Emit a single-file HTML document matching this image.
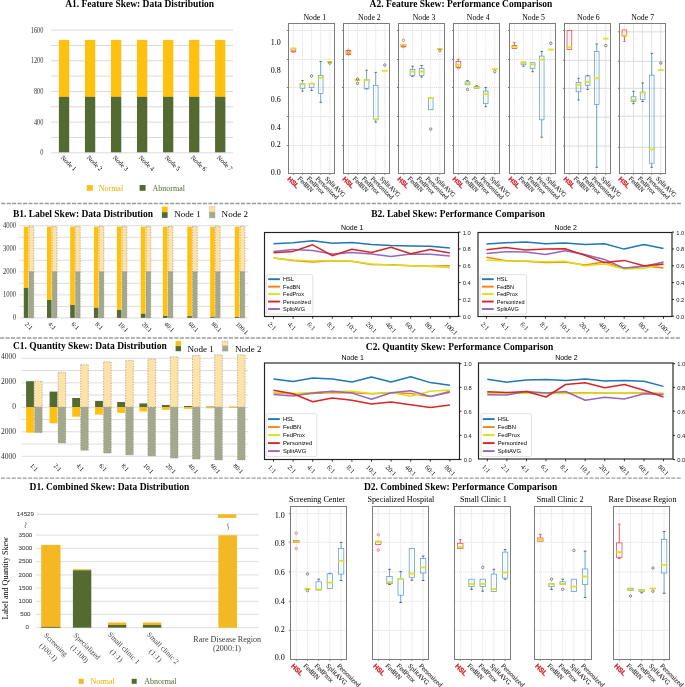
<!DOCTYPE html>
<html><head><meta charset="utf-8"><style>
html,body{margin:0;padding:0;background:#fff;}
body{width:685px;height:687px;overflow:hidden;}
svg{display:block;will-change:transform;}
</style></head><body>
<svg width="685" height="687" viewBox="0 0 685 687" font-family="Liberation Serif">
<rect width="685" height="687" fill="#fff"/>
<line x1="1.2" y1="203.5" x2="681" y2="203.5" stroke="#9a9a9a" stroke-width="1.4" stroke-dasharray="4.05 1.4"/>
<line x1="0.05" y1="338" x2="681" y2="338" stroke="#9a9a9a" stroke-width="1.4" stroke-dasharray="4.05 1.4"/>
<line x1="0.9" y1="478.1" x2="681" y2="478.1" stroke="#9a9a9a" stroke-width="1.4" stroke-dasharray="4.05 1.4"/>
<text x="65.2" y="7" font-family="Liberation Serif" font-size="9.5" font-weight="bold" text-anchor="start" fill="#000">A1. Feature Skew: Data Distribution</text>
<line x1="51" y1="152.8" x2="233" y2="152.8" stroke="#d9d9d9" stroke-width="1"/>
<line x1="51" y1="137.46" x2="233" y2="137.46" stroke="#d9d9d9" stroke-width="1"/>
<line x1="51" y1="122.13" x2="233" y2="122.13" stroke="#d9d9d9" stroke-width="1"/>
<line x1="51" y1="106.79" x2="233" y2="106.79" stroke="#d9d9d9" stroke-width="1"/>
<line x1="51" y1="91.45" x2="233" y2="91.45" stroke="#d9d9d9" stroke-width="1"/>
<line x1="51" y1="76.11" x2="233" y2="76.11" stroke="#d9d9d9" stroke-width="1"/>
<line x1="51" y1="60.78" x2="233" y2="60.78" stroke="#d9d9d9" stroke-width="1"/>
<line x1="51" y1="45.44" x2="233" y2="45.44" stroke="#d9d9d9" stroke-width="1"/>
<line x1="51" y1="30.1" x2="233" y2="30.1" stroke="#d9d9d9" stroke-width="1"/>
<text x="43.4" y="155.35" font-family="Liberation Serif" font-size="7.5" text-anchor="end" fill="#333" textLength="3.15" lengthAdjust="spacingAndGlyphs">0</text>
<text x="43.4" y="124.68" font-family="Liberation Serif" font-size="7.5" text-anchor="end" fill="#333" textLength="9.45" lengthAdjust="spacingAndGlyphs">400</text>
<text x="43.4" y="94" font-family="Liberation Serif" font-size="7.5" text-anchor="end" fill="#333" textLength="9.45" lengthAdjust="spacingAndGlyphs">800</text>
<text x="43.4" y="63.33" font-family="Liberation Serif" font-size="7.5" text-anchor="end" fill="#333" textLength="12.6" lengthAdjust="spacingAndGlyphs">1200</text>
<text x="43.4" y="32.65" font-family="Liberation Serif" font-size="7.5" text-anchor="end" fill="#333" textLength="12.6" lengthAdjust="spacingAndGlyphs">1600</text>
<rect x="58.9" y="39.9" width="10.3" height="56.9" fill="#ffc010"/>
<rect x="58.9" y="96.8" width="10.3" height="55.5" fill="#536a31"/>
<text x="60.4" y="158" font-family="Liberation Serif" font-size="6.5" text-anchor="start" fill="#000" transform="rotate(45 60.4 158)">Node 1</text>
<rect x="84.93" y="39.9" width="10.3" height="56.9" fill="#ffc010"/>
<rect x="84.93" y="96.8" width="10.3" height="55.5" fill="#536a31"/>
<text x="86.43" y="158" font-family="Liberation Serif" font-size="6.5" text-anchor="start" fill="#000" transform="rotate(45 86.43 158)">Node 2</text>
<rect x="110.96" y="39.9" width="10.3" height="56.9" fill="#ffc010"/>
<rect x="110.96" y="96.8" width="10.3" height="55.5" fill="#536a31"/>
<text x="112.46" y="158" font-family="Liberation Serif" font-size="6.5" text-anchor="start" fill="#000" transform="rotate(45 112.46 158)">Node 3</text>
<rect x="136.99" y="39.9" width="10.3" height="56.9" fill="#ffc010"/>
<rect x="136.99" y="96.8" width="10.3" height="55.5" fill="#536a31"/>
<text x="138.49" y="158" font-family="Liberation Serif" font-size="6.5" text-anchor="start" fill="#000" transform="rotate(45 138.49 158)">Node 4</text>
<rect x="163.02" y="39.9" width="10.3" height="56.9" fill="#ffc010"/>
<rect x="163.02" y="96.8" width="10.3" height="55.5" fill="#536a31"/>
<text x="164.52" y="158" font-family="Liberation Serif" font-size="6.5" text-anchor="start" fill="#000" transform="rotate(45 164.52 158)">Node 5</text>
<rect x="189.05" y="39.9" width="10.3" height="56.9" fill="#ffc010"/>
<rect x="189.05" y="96.8" width="10.3" height="55.5" fill="#536a31"/>
<text x="190.55" y="158" font-family="Liberation Serif" font-size="6.5" text-anchor="start" fill="#000" transform="rotate(45 190.55 158)">Node 6</text>
<rect x="215.08" y="39.9" width="10.3" height="56.9" fill="#ffc010"/>
<rect x="215.08" y="96.8" width="10.3" height="55.5" fill="#536a31"/>
<text x="216.58" y="158" font-family="Liberation Serif" font-size="6.5" text-anchor="start" fill="#000" transform="rotate(45 216.58 158)">Node 7</text>
<rect x="86.8" y="185" width="6" height="5.8" fill="#ffc010"/>
<text x="98.7" y="190.6" font-family="Liberation Serif" font-size="8" text-anchor="start" fill="#e8b000">Normal</text>
<rect x="139.6" y="185" width="6" height="5.8" fill="#536a31"/>
<text x="152.6" y="190.6" font-family="Liberation Serif" font-size="8" text-anchor="start" fill="#536a31">Abnormal</text>
<text x="369.6" y="7" font-family="Liberation Serif" font-size="9.5" font-weight="bold" text-anchor="start" fill="#000">A2. Feature Skew: Performance Comparison</text>
<line x1="288.5" y1="30.5" x2="334.5" y2="30.5" stroke="#c8c8c8" stroke-width="0.6" stroke-dasharray="1.3 0.9"/>
<line x1="286.9" y1="30.5" x2="288.5" y2="30.5" stroke="#444" stroke-width="0.7"/>
<line x1="288.5" y1="59.5" x2="334.5" y2="59.5" stroke="#c8c8c8" stroke-width="0.6" stroke-dasharray="1.3 0.9"/>
<line x1="286.9" y1="59.5" x2="288.5" y2="59.5" stroke="#444" stroke-width="0.7"/>
<line x1="288.5" y1="87.5" x2="334.5" y2="87.5" stroke="#c8c8c8" stroke-width="0.6" stroke-dasharray="1.3 0.9"/>
<line x1="286.9" y1="87.5" x2="288.5" y2="87.5" stroke="#444" stroke-width="0.7"/>
<line x1="288.5" y1="116.5" x2="334.5" y2="116.5" stroke="#c8c8c8" stroke-width="0.6" stroke-dasharray="1.3 0.9"/>
<line x1="286.9" y1="116.5" x2="288.5" y2="116.5" stroke="#444" stroke-width="0.7"/>
<line x1="288.5" y1="145.5" x2="334.5" y2="145.5" stroke="#c8c8c8" stroke-width="0.6" stroke-dasharray="1.3 0.9"/>
<line x1="286.9" y1="145.5" x2="288.5" y2="145.5" stroke="#444" stroke-width="0.7"/>
<line x1="293.4" y1="23.5" x2="293.4" y2="173.5" stroke="#d6d6d6" stroke-width="0.7" stroke-dasharray="1.3 0.9"/>
<line x1="293.4" y1="173.5" x2="293.4" y2="174.9" stroke="#444" stroke-width="0.7"/>
<line x1="302.5" y1="23.5" x2="302.5" y2="173.5" stroke="#d6d6d6" stroke-width="0.7" stroke-dasharray="1.3 0.9"/>
<line x1="302.5" y1="173.5" x2="302.5" y2="174.9" stroke="#444" stroke-width="0.7"/>
<line x1="311.6" y1="23.5" x2="311.6" y2="173.5" stroke="#d6d6d6" stroke-width="0.7" stroke-dasharray="1.3 0.9"/>
<line x1="311.6" y1="173.5" x2="311.6" y2="174.9" stroke="#444" stroke-width="0.7"/>
<line x1="320.7" y1="23.5" x2="320.7" y2="173.5" stroke="#d6d6d6" stroke-width="0.7" stroke-dasharray="1.3 0.9"/>
<line x1="320.7" y1="173.5" x2="320.7" y2="174.9" stroke="#444" stroke-width="0.7"/>
<line x1="329.8" y1="23.5" x2="329.8" y2="173.5" stroke="#d6d6d6" stroke-width="0.7" stroke-dasharray="1.3 0.9"/>
<line x1="329.8" y1="173.5" x2="329.8" y2="174.9" stroke="#444" stroke-width="0.7"/>
<rect x="288.5" y="23.5" width="46" height="150" fill="none" stroke="#7c7c7c" stroke-width="1"/>
<text x="314.8" y="19.9" font-family="Liberation Serif" font-size="7.8" text-anchor="middle" fill="#000">Node 1</text>
<rect x="291.05" y="48.3" width="4.7" height="3.5" fill="none" stroke="#e8434b" stroke-width="0.75"/>
<line x1="290.55" y1="48.5" x2="296.25" y2="48.5" stroke="#dde21c" stroke-width="1.8"/>
<circle cx="293.4" cy="51.2" r="1.25" fill="none" stroke="#e8434b" stroke-width="0.6"/>
<line x1="302.5" y1="80.6" x2="302.5" y2="83.4" stroke="#5a9ad4" stroke-width="0.85"/>
<line x1="301.32" y1="80.6" x2="303.68" y2="80.6" stroke="#444" stroke-width="0.8"/>
<line x1="302.5" y1="88.3" x2="302.5" y2="91.1" stroke="#5a9ad4" stroke-width="0.85"/>
<line x1="301.32" y1="91.1" x2="303.68" y2="91.1" stroke="#444" stroke-width="0.8"/>
<rect x="300.15" y="83.4" width="4.7" height="4.9" fill="none" stroke="#5b9bd5" stroke-width="0.75"/>
<line x1="299.65" y1="84.1" x2="305.35" y2="84.1" stroke="#dde21c" stroke-width="1.8"/>
<line x1="311.6" y1="87.6" x2="311.6" y2="90.4" stroke="#5a9ad4" stroke-width="0.85"/>
<line x1="310.42" y1="90.4" x2="312.77" y2="90.4" stroke="#444" stroke-width="0.8"/>
<rect x="309.25" y="83.4" width="4.7" height="4.2" fill="none" stroke="#5b9bd5" stroke-width="0.75"/>
<line x1="308.75" y1="83.6" x2="314.45" y2="83.6" stroke="#dde21c" stroke-width="1.8"/>
<circle cx="311.6" cy="75.9" r="1.25" fill="none" stroke="#444" stroke-width="0.6"/>
<line x1="320.7" y1="61.5" x2="320.7" y2="75.5" stroke="#5a9ad4" stroke-width="0.85"/>
<line x1="319.52" y1="61.5" x2="321.88" y2="61.5" stroke="#444" stroke-width="0.8"/>
<line x1="320.7" y1="93.4" x2="320.7" y2="102.3" stroke="#5a9ad4" stroke-width="0.85"/>
<line x1="319.52" y1="102.3" x2="321.88" y2="102.3" stroke="#444" stroke-width="0.8"/>
<rect x="318.35" y="75.5" width="4.7" height="17.9" fill="none" stroke="#5b9bd5" stroke-width="0.75"/>
<line x1="317.85" y1="77.8" x2="323.55" y2="77.8" stroke="#dde21c" stroke-width="1.8"/>
<line x1="326.95" y1="62" x2="332.65" y2="62" stroke="#dde21c" stroke-width="1.8"/>
<circle cx="329.8" cy="63.1" r="1.25" fill="none" stroke="#444" stroke-width="0.6"/>
<text x="287.1" y="179.4" font-family="Liberation Sans" font-size="6.6" font-weight="bold" text-anchor="start" fill="#d0202a" transform="rotate(45 287.1 179.4)" stroke="#d0202a" stroke-width="0.25">HSL</text>
<text x="297.3" y="179.1" font-family="Liberation Serif" font-size="6.6" text-anchor="start" fill="#222" transform="rotate(45 297.3 179.1)" stroke="#222" stroke-width="0.08">FedBN</text>
<text x="306.4" y="179.1" font-family="Liberation Serif" font-size="6.6" text-anchor="start" fill="#222" transform="rotate(45 306.4 179.1)" stroke="#222" stroke-width="0.08">FedProx</text>
<text x="315.5" y="179.1" font-family="Liberation Serif" font-size="6.6" text-anchor="start" fill="#222" transform="rotate(45 315.5 179.1)" stroke="#222" stroke-width="0.08">Personized</text>
<text x="324.6" y="179.1" font-family="Liberation Serif" font-size="6.6" text-anchor="start" fill="#222" transform="rotate(45 324.6 179.1)" stroke="#222" stroke-width="0.08">SplitAVG</text>
<line x1="343.5" y1="30.5" x2="389.5" y2="30.5" stroke="#c8c8c8" stroke-width="0.6" stroke-dasharray="1.3 0.9"/>
<line x1="341.9" y1="30.5" x2="343.5" y2="30.5" stroke="#444" stroke-width="0.7"/>
<line x1="343.5" y1="59.5" x2="389.5" y2="59.5" stroke="#c8c8c8" stroke-width="0.6" stroke-dasharray="1.3 0.9"/>
<line x1="341.9" y1="59.5" x2="343.5" y2="59.5" stroke="#444" stroke-width="0.7"/>
<line x1="343.5" y1="87.5" x2="389.5" y2="87.5" stroke="#c8c8c8" stroke-width="0.6" stroke-dasharray="1.3 0.9"/>
<line x1="341.9" y1="87.5" x2="343.5" y2="87.5" stroke="#444" stroke-width="0.7"/>
<line x1="343.5" y1="116.5" x2="389.5" y2="116.5" stroke="#c8c8c8" stroke-width="0.6" stroke-dasharray="1.3 0.9"/>
<line x1="341.9" y1="116.5" x2="343.5" y2="116.5" stroke="#444" stroke-width="0.7"/>
<line x1="343.5" y1="145.5" x2="389.5" y2="145.5" stroke="#c8c8c8" stroke-width="0.6" stroke-dasharray="1.3 0.9"/>
<line x1="341.9" y1="145.5" x2="343.5" y2="145.5" stroke="#444" stroke-width="0.7"/>
<line x1="348.4" y1="23.5" x2="348.4" y2="173.5" stroke="#d6d6d6" stroke-width="0.7" stroke-dasharray="1.3 0.9"/>
<line x1="348.4" y1="173.5" x2="348.4" y2="174.9" stroke="#444" stroke-width="0.7"/>
<line x1="357.5" y1="23.5" x2="357.5" y2="173.5" stroke="#d6d6d6" stroke-width="0.7" stroke-dasharray="1.3 0.9"/>
<line x1="357.5" y1="173.5" x2="357.5" y2="174.9" stroke="#444" stroke-width="0.7"/>
<line x1="366.6" y1="23.5" x2="366.6" y2="173.5" stroke="#d6d6d6" stroke-width="0.7" stroke-dasharray="1.3 0.9"/>
<line x1="366.6" y1="173.5" x2="366.6" y2="174.9" stroke="#444" stroke-width="0.7"/>
<line x1="375.7" y1="23.5" x2="375.7" y2="173.5" stroke="#d6d6d6" stroke-width="0.7" stroke-dasharray="1.3 0.9"/>
<line x1="375.7" y1="173.5" x2="375.7" y2="174.9" stroke="#444" stroke-width="0.7"/>
<line x1="384.8" y1="23.5" x2="384.8" y2="173.5" stroke="#d6d6d6" stroke-width="0.7" stroke-dasharray="1.3 0.9"/>
<line x1="384.8" y1="173.5" x2="384.8" y2="174.9" stroke="#444" stroke-width="0.7"/>
<rect x="343.5" y="23.5" width="46" height="150" fill="none" stroke="#7c7c7c" stroke-width="1"/>
<text x="369.4" y="19.9" font-family="Liberation Serif" font-size="7.8" text-anchor="middle" fill="#000">Node 2</text>
<rect x="346.05" y="50.5" width="4.7" height="3.8" fill="none" stroke="#e8434b" stroke-width="0.75"/>
<line x1="345.55" y1="52.6" x2="351.25" y2="52.6" stroke="#dde21c" stroke-width="1.8"/>
<circle cx="348.4" cy="50.8" r="1.25" fill="none" stroke="#e8434b" stroke-width="0.6"/>
<circle cx="348.4" cy="54" r="1.25" fill="none" stroke="#e8434b" stroke-width="0.6"/>
<line x1="354.65" y1="80.1" x2="360.35" y2="80.1" stroke="#dde21c" stroke-width="1.8"/>
<circle cx="357.5" cy="79" r="1.25" fill="none" stroke="#444" stroke-width="0.6"/>
<circle cx="357.5" cy="83.4" r="1.25" fill="none" stroke="#444" stroke-width="0.6"/>
<line x1="366.6" y1="70.3" x2="366.6" y2="79.4" stroke="#5a9ad4" stroke-width="0.85"/>
<line x1="365.42" y1="70.3" x2="367.77" y2="70.3" stroke="#444" stroke-width="0.8"/>
<line x1="366.6" y1="88.8" x2="366.6" y2="88.8" stroke="#5a9ad4" stroke-width="0.85"/>
<line x1="365.42" y1="88.8" x2="367.77" y2="88.8" stroke="#444" stroke-width="0.8"/>
<rect x="364.25" y="79.4" width="4.7" height="9.4" fill="none" stroke="#5b9bd5" stroke-width="0.75"/>
<line x1="363.75" y1="80.1" x2="369.45" y2="80.1" stroke="#dde21c" stroke-width="1.8"/>
<line x1="375.7" y1="72.4" x2="375.7" y2="85.3" stroke="#5a9ad4" stroke-width="0.85"/>
<line x1="374.52" y1="72.4" x2="376.88" y2="72.4" stroke="#444" stroke-width="0.8"/>
<line x1="375.7" y1="119.8" x2="375.7" y2="122.1" stroke="#5a9ad4" stroke-width="0.85"/>
<line x1="374.52" y1="122.1" x2="376.88" y2="122.1" stroke="#444" stroke-width="0.8"/>
<rect x="373.35" y="85.3" width="4.7" height="34.5" fill="none" stroke="#5b9bd5" stroke-width="0.75"/>
<line x1="372.85" y1="119.1" x2="378.55" y2="119.1" stroke="#dde21c" stroke-width="1.8"/>
<line x1="381.95" y1="70.8" x2="387.65" y2="70.8" stroke="#dde21c" stroke-width="1.8"/>
<circle cx="384.8" cy="65" r="1.25" fill="none" stroke="#444" stroke-width="0.6"/>
<text x="342.1" y="179.4" font-family="Liberation Sans" font-size="6.6" font-weight="bold" text-anchor="start" fill="#d0202a" transform="rotate(45 342.1 179.4)" stroke="#d0202a" stroke-width="0.25">HSL</text>
<text x="352.3" y="179.1" font-family="Liberation Serif" font-size="6.6" text-anchor="start" fill="#222" transform="rotate(45 352.3 179.1)" stroke="#222" stroke-width="0.08">FedBN</text>
<text x="361.4" y="179.1" font-family="Liberation Serif" font-size="6.6" text-anchor="start" fill="#222" transform="rotate(45 361.4 179.1)" stroke="#222" stroke-width="0.08">FedProx</text>
<text x="370.5" y="179.1" font-family="Liberation Serif" font-size="6.6" text-anchor="start" fill="#222" transform="rotate(45 370.5 179.1)" stroke="#222" stroke-width="0.08">Personized</text>
<text x="379.6" y="179.1" font-family="Liberation Serif" font-size="6.6" text-anchor="start" fill="#222" transform="rotate(45 379.6 179.1)" stroke="#222" stroke-width="0.08">SplitAVG</text>
<line x1="398.5" y1="30.5" x2="444.5" y2="30.5" stroke="#c8c8c8" stroke-width="0.6" stroke-dasharray="1.3 0.9"/>
<line x1="396.9" y1="30.5" x2="398.5" y2="30.5" stroke="#444" stroke-width="0.7"/>
<line x1="398.5" y1="59.5" x2="444.5" y2="59.5" stroke="#c8c8c8" stroke-width="0.6" stroke-dasharray="1.3 0.9"/>
<line x1="396.9" y1="59.5" x2="398.5" y2="59.5" stroke="#444" stroke-width="0.7"/>
<line x1="398.5" y1="87.5" x2="444.5" y2="87.5" stroke="#c8c8c8" stroke-width="0.6" stroke-dasharray="1.3 0.9"/>
<line x1="396.9" y1="87.5" x2="398.5" y2="87.5" stroke="#444" stroke-width="0.7"/>
<line x1="398.5" y1="116.5" x2="444.5" y2="116.5" stroke="#c8c8c8" stroke-width="0.6" stroke-dasharray="1.3 0.9"/>
<line x1="396.9" y1="116.5" x2="398.5" y2="116.5" stroke="#444" stroke-width="0.7"/>
<line x1="398.5" y1="145.5" x2="444.5" y2="145.5" stroke="#c8c8c8" stroke-width="0.6" stroke-dasharray="1.3 0.9"/>
<line x1="396.9" y1="145.5" x2="398.5" y2="145.5" stroke="#444" stroke-width="0.7"/>
<line x1="403.4" y1="23.5" x2="403.4" y2="173.5" stroke="#d6d6d6" stroke-width="0.7" stroke-dasharray="1.3 0.9"/>
<line x1="403.4" y1="173.5" x2="403.4" y2="174.9" stroke="#444" stroke-width="0.7"/>
<line x1="412.5" y1="23.5" x2="412.5" y2="173.5" stroke="#d6d6d6" stroke-width="0.7" stroke-dasharray="1.3 0.9"/>
<line x1="412.5" y1="173.5" x2="412.5" y2="174.9" stroke="#444" stroke-width="0.7"/>
<line x1="421.6" y1="23.5" x2="421.6" y2="173.5" stroke="#d6d6d6" stroke-width="0.7" stroke-dasharray="1.3 0.9"/>
<line x1="421.6" y1="173.5" x2="421.6" y2="174.9" stroke="#444" stroke-width="0.7"/>
<line x1="430.7" y1="23.5" x2="430.7" y2="173.5" stroke="#d6d6d6" stroke-width="0.7" stroke-dasharray="1.3 0.9"/>
<line x1="430.7" y1="173.5" x2="430.7" y2="174.9" stroke="#444" stroke-width="0.7"/>
<line x1="439.8" y1="23.5" x2="439.8" y2="173.5" stroke="#d6d6d6" stroke-width="0.7" stroke-dasharray="1.3 0.9"/>
<line x1="439.8" y1="173.5" x2="439.8" y2="174.9" stroke="#444" stroke-width="0.7"/>
<rect x="398.5" y="23.5" width="46" height="150" fill="none" stroke="#7c7c7c" stroke-width="1"/>
<text x="424" y="19.9" font-family="Liberation Serif" font-size="7.8" text-anchor="middle" fill="#000">Node 3</text>
<rect x="401.05" y="44.5" width="4.7" height="2.3" fill="none" stroke="#e8434b" stroke-width="0.75"/>
<line x1="400.55" y1="44.9" x2="406.25" y2="44.9" stroke="#dde21c" stroke-width="1.8"/>
<circle cx="403.4" cy="40.3" r="1.25" fill="none" stroke="#e8434b" stroke-width="0.6"/>
<circle cx="403.4" cy="46.5" r="1.25" fill="none" stroke="#e8434b" stroke-width="0.6"/>
<line x1="412.5" y1="66.2" x2="412.5" y2="69.4" stroke="#5a9ad4" stroke-width="0.85"/>
<line x1="411.32" y1="66.2" x2="413.68" y2="66.2" stroke="#444" stroke-width="0.8"/>
<line x1="412.5" y1="75.5" x2="412.5" y2="76.4" stroke="#5a9ad4" stroke-width="0.85"/>
<line x1="411.32" y1="76.4" x2="413.68" y2="76.4" stroke="#444" stroke-width="0.8"/>
<rect x="410.15" y="69.4" width="4.7" height="6.1" fill="none" stroke="#5b9bd5" stroke-width="0.75"/>
<line x1="409.65" y1="71.7" x2="415.35" y2="71.7" stroke="#dde21c" stroke-width="1.8"/>
<line x1="421.6" y1="65.5" x2="421.6" y2="68.5" stroke="#5a9ad4" stroke-width="0.85"/>
<line x1="420.42" y1="65.5" x2="422.77" y2="65.5" stroke="#444" stroke-width="0.8"/>
<line x1="421.6" y1="75.5" x2="421.6" y2="77.1" stroke="#5a9ad4" stroke-width="0.85"/>
<line x1="420.42" y1="77.1" x2="422.77" y2="77.1" stroke="#444" stroke-width="0.8"/>
<rect x="419.25" y="68.5" width="4.7" height="7" fill="none" stroke="#5b9bd5" stroke-width="0.75"/>
<line x1="418.75" y1="71.7" x2="424.45" y2="71.7" stroke="#dde21c" stroke-width="1.8"/>
<rect x="428.35" y="98.1" width="4.7" height="11.6" fill="none" stroke="#5b9bd5" stroke-width="0.75"/>
<line x1="427.85" y1="98.1" x2="433.55" y2="98.1" stroke="#dde21c" stroke-width="1.8"/>
<circle cx="430.7" cy="129.1" r="1.25" fill="none" stroke="#444" stroke-width="0.6"/>
<line x1="436.95" y1="48.9" x2="442.65" y2="48.9" stroke="#dde21c" stroke-width="1.8"/>
<circle cx="439.8" cy="50.5" r="1.25" fill="none" stroke="#444" stroke-width="0.6"/>
<text x="397.1" y="179.4" font-family="Liberation Sans" font-size="6.6" font-weight="bold" text-anchor="start" fill="#d0202a" transform="rotate(45 397.1 179.4)" stroke="#d0202a" stroke-width="0.25">HSL</text>
<text x="407.3" y="179.1" font-family="Liberation Serif" font-size="6.6" text-anchor="start" fill="#222" transform="rotate(45 407.3 179.1)" stroke="#222" stroke-width="0.08">FedBN</text>
<text x="416.4" y="179.1" font-family="Liberation Serif" font-size="6.6" text-anchor="start" fill="#222" transform="rotate(45 416.4 179.1)" stroke="#222" stroke-width="0.08">FedProx</text>
<text x="425.5" y="179.1" font-family="Liberation Serif" font-size="6.6" text-anchor="start" fill="#222" transform="rotate(45 425.5 179.1)" stroke="#222" stroke-width="0.08">Personized</text>
<text x="434.6" y="179.1" font-family="Liberation Serif" font-size="6.6" text-anchor="start" fill="#222" transform="rotate(45 434.6 179.1)" stroke="#222" stroke-width="0.08">SplitAVG</text>
<line x1="453.5" y1="30.5" x2="499.5" y2="30.5" stroke="#c8c8c8" stroke-width="0.6" stroke-dasharray="1.3 0.9"/>
<line x1="451.9" y1="30.5" x2="453.5" y2="30.5" stroke="#444" stroke-width="0.7"/>
<line x1="453.5" y1="59.5" x2="499.5" y2="59.5" stroke="#c8c8c8" stroke-width="0.6" stroke-dasharray="1.3 0.9"/>
<line x1="451.9" y1="59.5" x2="453.5" y2="59.5" stroke="#444" stroke-width="0.7"/>
<line x1="453.5" y1="87.5" x2="499.5" y2="87.5" stroke="#c8c8c8" stroke-width="0.6" stroke-dasharray="1.3 0.9"/>
<line x1="451.9" y1="87.5" x2="453.5" y2="87.5" stroke="#444" stroke-width="0.7"/>
<line x1="453.5" y1="116.5" x2="499.5" y2="116.5" stroke="#c8c8c8" stroke-width="0.6" stroke-dasharray="1.3 0.9"/>
<line x1="451.9" y1="116.5" x2="453.5" y2="116.5" stroke="#444" stroke-width="0.7"/>
<line x1="453.5" y1="145.5" x2="499.5" y2="145.5" stroke="#c8c8c8" stroke-width="0.6" stroke-dasharray="1.3 0.9"/>
<line x1="451.9" y1="145.5" x2="453.5" y2="145.5" stroke="#444" stroke-width="0.7"/>
<line x1="458.4" y1="23.5" x2="458.4" y2="173.5" stroke="#d6d6d6" stroke-width="0.7" stroke-dasharray="1.3 0.9"/>
<line x1="458.4" y1="173.5" x2="458.4" y2="174.9" stroke="#444" stroke-width="0.7"/>
<line x1="467.5" y1="23.5" x2="467.5" y2="173.5" stroke="#d6d6d6" stroke-width="0.7" stroke-dasharray="1.3 0.9"/>
<line x1="467.5" y1="173.5" x2="467.5" y2="174.9" stroke="#444" stroke-width="0.7"/>
<line x1="476.6" y1="23.5" x2="476.6" y2="173.5" stroke="#d6d6d6" stroke-width="0.7" stroke-dasharray="1.3 0.9"/>
<line x1="476.6" y1="173.5" x2="476.6" y2="174.9" stroke="#444" stroke-width="0.7"/>
<line x1="485.7" y1="23.5" x2="485.7" y2="173.5" stroke="#d6d6d6" stroke-width="0.7" stroke-dasharray="1.3 0.9"/>
<line x1="485.7" y1="173.5" x2="485.7" y2="174.9" stroke="#444" stroke-width="0.7"/>
<line x1="494.8" y1="23.5" x2="494.8" y2="173.5" stroke="#d6d6d6" stroke-width="0.7" stroke-dasharray="1.3 0.9"/>
<line x1="494.8" y1="173.5" x2="494.8" y2="174.9" stroke="#444" stroke-width="0.7"/>
<rect x="453.5" y="23.5" width="46" height="150" fill="none" stroke="#7c7c7c" stroke-width="1"/>
<text x="478.2" y="19.9" font-family="Liberation Serif" font-size="7.8" text-anchor="middle" fill="#000">Node 4</text>
<line x1="458.4" y1="59.2" x2="458.4" y2="61.5" stroke="#e8434b" stroke-width="0.85"/>
<line x1="457.22" y1="59.2" x2="459.57" y2="59.2" stroke="#e8434b" stroke-width="0.8"/>
<rect x="456.05" y="61.5" width="4.7" height="5.8" fill="none" stroke="#e8434b" stroke-width="0.75"/>
<line x1="455.55" y1="64.8" x2="461.25" y2="64.8" stroke="#dde21c" stroke-width="1.8"/>
<circle cx="458.4" cy="67.9" r="1.25" fill="none" stroke="#e8434b" stroke-width="0.6"/>
<line x1="467.5" y1="80.6" x2="467.5" y2="81.8" stroke="#5a9ad4" stroke-width="0.85"/>
<line x1="466.32" y1="80.6" x2="468.68" y2="80.6" stroke="#444" stroke-width="0.8"/>
<rect x="465.15" y="81.8" width="4.7" height="3" fill="none" stroke="#5b9bd5" stroke-width="0.75"/>
<line x1="464.65" y1="83.4" x2="470.35" y2="83.4" stroke="#dde21c" stroke-width="1.8"/>
<circle cx="467.5" cy="89.5" r="1.25" fill="none" stroke="#444" stroke-width="0.6"/>
<line x1="476.6" y1="85.7" x2="476.6" y2="86.4" stroke="#5a9ad4" stroke-width="0.85"/>
<line x1="475.42" y1="85.7" x2="477.77" y2="85.7" stroke="#444" stroke-width="0.8"/>
<rect x="474.25" y="86.4" width="4.7" height="1.9" fill="none" stroke="#5b9bd5" stroke-width="0.75"/>
<line x1="473.75" y1="87.6" x2="479.45" y2="87.6" stroke="#dde21c" stroke-width="1.8"/>
<line x1="485.7" y1="87.6" x2="485.7" y2="91.1" stroke="#5a9ad4" stroke-width="0.85"/>
<line x1="484.52" y1="87.6" x2="486.88" y2="87.6" stroke="#444" stroke-width="0.8"/>
<line x1="485.7" y1="103.4" x2="485.7" y2="106.7" stroke="#5a9ad4" stroke-width="0.85"/>
<line x1="484.52" y1="106.7" x2="486.88" y2="106.7" stroke="#444" stroke-width="0.8"/>
<rect x="483.35" y="91.1" width="4.7" height="12.3" fill="none" stroke="#5b9bd5" stroke-width="0.75"/>
<line x1="482.85" y1="94.1" x2="488.55" y2="94.1" stroke="#dde21c" stroke-width="1.8"/>
<line x1="491.95" y1="69" x2="497.65" y2="69" stroke="#dde21c" stroke-width="1.8"/>
<circle cx="494.8" cy="71.7" r="1.25" fill="none" stroke="#444" stroke-width="0.6"/>
<text x="452.1" y="179.4" font-family="Liberation Sans" font-size="6.6" font-weight="bold" text-anchor="start" fill="#d0202a" transform="rotate(45 452.1 179.4)" stroke="#d0202a" stroke-width="0.25">HSL</text>
<text x="462.3" y="179.1" font-family="Liberation Serif" font-size="6.6" text-anchor="start" fill="#222" transform="rotate(45 462.3 179.1)" stroke="#222" stroke-width="0.08">FedBN</text>
<text x="471.4" y="179.1" font-family="Liberation Serif" font-size="6.6" text-anchor="start" fill="#222" transform="rotate(45 471.4 179.1)" stroke="#222" stroke-width="0.08">FedProx</text>
<text x="480.5" y="179.1" font-family="Liberation Serif" font-size="6.6" text-anchor="start" fill="#222" transform="rotate(45 480.5 179.1)" stroke="#222" stroke-width="0.08">Personized</text>
<text x="489.6" y="179.1" font-family="Liberation Serif" font-size="6.6" text-anchor="start" fill="#222" transform="rotate(45 489.6 179.1)" stroke="#222" stroke-width="0.08">SplitAVG</text>
<line x1="509.5" y1="30.5" x2="555.5" y2="30.5" stroke="#c8c8c8" stroke-width="0.6" stroke-dasharray="1.3 0.9"/>
<line x1="507.9" y1="30.5" x2="509.5" y2="30.5" stroke="#444" stroke-width="0.7"/>
<line x1="509.5" y1="59.5" x2="555.5" y2="59.5" stroke="#c8c8c8" stroke-width="0.6" stroke-dasharray="1.3 0.9"/>
<line x1="507.9" y1="59.5" x2="509.5" y2="59.5" stroke="#444" stroke-width="0.7"/>
<line x1="509.5" y1="87.5" x2="555.5" y2="87.5" stroke="#c8c8c8" stroke-width="0.6" stroke-dasharray="1.3 0.9"/>
<line x1="507.9" y1="87.5" x2="509.5" y2="87.5" stroke="#444" stroke-width="0.7"/>
<line x1="509.5" y1="116.5" x2="555.5" y2="116.5" stroke="#c8c8c8" stroke-width="0.6" stroke-dasharray="1.3 0.9"/>
<line x1="507.9" y1="116.5" x2="509.5" y2="116.5" stroke="#444" stroke-width="0.7"/>
<line x1="509.5" y1="145.5" x2="555.5" y2="145.5" stroke="#c8c8c8" stroke-width="0.6" stroke-dasharray="1.3 0.9"/>
<line x1="507.9" y1="145.5" x2="509.5" y2="145.5" stroke="#444" stroke-width="0.7"/>
<line x1="514.4" y1="23.5" x2="514.4" y2="173.5" stroke="#d6d6d6" stroke-width="0.7" stroke-dasharray="1.3 0.9"/>
<line x1="514.4" y1="173.5" x2="514.4" y2="174.9" stroke="#444" stroke-width="0.7"/>
<line x1="523.5" y1="23.5" x2="523.5" y2="173.5" stroke="#d6d6d6" stroke-width="0.7" stroke-dasharray="1.3 0.9"/>
<line x1="523.5" y1="173.5" x2="523.5" y2="174.9" stroke="#444" stroke-width="0.7"/>
<line x1="532.6" y1="23.5" x2="532.6" y2="173.5" stroke="#d6d6d6" stroke-width="0.7" stroke-dasharray="1.3 0.9"/>
<line x1="532.6" y1="173.5" x2="532.6" y2="174.9" stroke="#444" stroke-width="0.7"/>
<line x1="541.7" y1="23.5" x2="541.7" y2="173.5" stroke="#d6d6d6" stroke-width="0.7" stroke-dasharray="1.3 0.9"/>
<line x1="541.7" y1="173.5" x2="541.7" y2="174.9" stroke="#444" stroke-width="0.7"/>
<line x1="550.8" y1="23.5" x2="550.8" y2="173.5" stroke="#d6d6d6" stroke-width="0.7" stroke-dasharray="1.3 0.9"/>
<line x1="550.8" y1="173.5" x2="550.8" y2="174.9" stroke="#444" stroke-width="0.7"/>
<rect x="509.5" y="23.5" width="46" height="150" fill="none" stroke="#7c7c7c" stroke-width="1"/>
<text x="533.5" y="19.9" font-family="Liberation Serif" font-size="7.8" text-anchor="middle" fill="#000">Node 5</text>
<line x1="514.4" y1="42.6" x2="514.4" y2="45.6" stroke="#e8434b" stroke-width="0.85"/>
<line x1="513.23" y1="42.6" x2="515.57" y2="42.6" stroke="#e8434b" stroke-width="0.8"/>
<rect x="512.05" y="45.6" width="4.7" height="2.8" fill="none" stroke="#e8434b" stroke-width="0.75"/>
<line x1="511.55" y1="46.8" x2="517.25" y2="46.8" stroke="#dde21c" stroke-width="1.8"/>
<line x1="523.5" y1="64.8" x2="523.5" y2="66.2" stroke="#5a9ad4" stroke-width="0.85"/>
<line x1="522.33" y1="66.2" x2="524.67" y2="66.2" stroke="#444" stroke-width="0.8"/>
<rect x="521.15" y="62" width="4.7" height="2.8" fill="none" stroke="#5b9bd5" stroke-width="0.75"/>
<line x1="520.65" y1="63.1" x2="526.35" y2="63.1" stroke="#dde21c" stroke-width="1.8"/>
<line x1="532.6" y1="68.3" x2="532.6" y2="71.7" stroke="#5a9ad4" stroke-width="0.85"/>
<line x1="531.43" y1="71.7" x2="533.77" y2="71.7" stroke="#444" stroke-width="0.8"/>
<rect x="530.25" y="62.7" width="4.7" height="5.6" fill="none" stroke="#5b9bd5" stroke-width="0.75"/>
<line x1="529.75" y1="64.3" x2="535.45" y2="64.3" stroke="#dde21c" stroke-width="1.8"/>
<line x1="541.7" y1="51.5" x2="541.7" y2="56.1" stroke="#5a9ad4" stroke-width="0.85"/>
<line x1="540.52" y1="51.5" x2="542.87" y2="51.5" stroke="#444" stroke-width="0.8"/>
<line x1="541.7" y1="119.8" x2="541.7" y2="137.2" stroke="#5a9ad4" stroke-width="0.85"/>
<line x1="540.52" y1="137.2" x2="542.87" y2="137.2" stroke="#444" stroke-width="0.8"/>
<rect x="539.35" y="56.1" width="4.7" height="63.7" fill="none" stroke="#5b9bd5" stroke-width="0.75"/>
<line x1="538.85" y1="59.6" x2="544.55" y2="59.6" stroke="#dde21c" stroke-width="1.8"/>
<line x1="547.95" y1="49.6" x2="553.65" y2="49.6" stroke="#dde21c" stroke-width="1.8"/>
<circle cx="550.8" cy="43.3" r="1.25" fill="none" stroke="#444" stroke-width="0.6"/>
<text x="508.1" y="179.4" font-family="Liberation Sans" font-size="6.6" font-weight="bold" text-anchor="start" fill="#d0202a" transform="rotate(45 508.1 179.4)" stroke="#d0202a" stroke-width="0.25">HSL</text>
<text x="518.3" y="179.1" font-family="Liberation Serif" font-size="6.6" text-anchor="start" fill="#222" transform="rotate(45 518.3 179.1)" stroke="#222" stroke-width="0.08">FedBN</text>
<text x="527.4" y="179.1" font-family="Liberation Serif" font-size="6.6" text-anchor="start" fill="#222" transform="rotate(45 527.4 179.1)" stroke="#222" stroke-width="0.08">FedProx</text>
<text x="536.5" y="179.1" font-family="Liberation Serif" font-size="6.6" text-anchor="start" fill="#222" transform="rotate(45 536.5 179.1)" stroke="#222" stroke-width="0.08">Personized</text>
<text x="545.6" y="179.1" font-family="Liberation Serif" font-size="6.6" text-anchor="start" fill="#222" transform="rotate(45 545.6 179.1)" stroke="#222" stroke-width="0.08">SplitAVG</text>
<line x1="564.5" y1="30.5" x2="610.5" y2="30.5" stroke="#d0d0d0" stroke-width="0.8"/>
<line x1="562.9" y1="30.5" x2="564.5" y2="30.5" stroke="#444" stroke-width="0.7"/>
<line x1="564.5" y1="60.3" x2="610.5" y2="60.3" stroke="#d0d0d0" stroke-width="0.8"/>
<line x1="562.9" y1="60.3" x2="564.5" y2="60.3" stroke="#444" stroke-width="0.7"/>
<line x1="564.5" y1="88.3" x2="610.5" y2="88.3" stroke="#d0d0d0" stroke-width="0.8"/>
<line x1="562.9" y1="88.3" x2="564.5" y2="88.3" stroke="#444" stroke-width="0.7"/>
<line x1="564.5" y1="117.2" x2="610.5" y2="117.2" stroke="#d0d0d0" stroke-width="0.8"/>
<line x1="562.9" y1="117.2" x2="564.5" y2="117.2" stroke="#444" stroke-width="0.7"/>
<line x1="564.5" y1="146" x2="610.5" y2="146" stroke="#d0d0d0" stroke-width="0.8"/>
<line x1="562.9" y1="146" x2="564.5" y2="146" stroke="#444" stroke-width="0.7"/>
<line x1="569.4" y1="23.5" x2="569.4" y2="173.5" stroke="#dadada" stroke-width="0.8" stroke-dasharray="1.3 0.9"/>
<line x1="569.4" y1="173.5" x2="569.4" y2="174.9" stroke="#444" stroke-width="0.7"/>
<line x1="578.5" y1="23.5" x2="578.5" y2="173.5" stroke="#dadada" stroke-width="0.8"/>
<line x1="578.5" y1="173.5" x2="578.5" y2="174.9" stroke="#444" stroke-width="0.7"/>
<line x1="587.6" y1="23.5" x2="587.6" y2="173.5" stroke="#dadada" stroke-width="0.8"/>
<line x1="587.6" y1="173.5" x2="587.6" y2="174.9" stroke="#444" stroke-width="0.7"/>
<line x1="596.7" y1="23.5" x2="596.7" y2="173.5" stroke="#dadada" stroke-width="0.8"/>
<line x1="596.7" y1="173.5" x2="596.7" y2="174.9" stroke="#444" stroke-width="0.7"/>
<line x1="605.8" y1="23.5" x2="605.8" y2="173.5" stroke="#dadada" stroke-width="0.8"/>
<line x1="605.8" y1="173.5" x2="605.8" y2="174.9" stroke="#444" stroke-width="0.7"/>
<rect x="564.5" y="23.5" width="46" height="150" fill="none" stroke="#7c7c7c" stroke-width="1"/>
<text x="588.4" y="19.9" font-family="Liberation Serif" font-size="7.8" text-anchor="middle" fill="#000">Node 6</text>
<rect x="567.05" y="30.5" width="4.7" height="19.1" fill="none" stroke="#e8434b" stroke-width="0.75"/>
<line x1="566.55" y1="47.3" x2="572.25" y2="47.3" stroke="#dde21c" stroke-width="1.8"/>
<line x1="578.5" y1="78.3" x2="578.5" y2="82.5" stroke="#5a9ad4" stroke-width="0.85"/>
<line x1="577.33" y1="78.3" x2="579.67" y2="78.3" stroke="#444" stroke-width="0.8"/>
<line x1="578.5" y1="91.8" x2="578.5" y2="100" stroke="#5a9ad4" stroke-width="0.85"/>
<line x1="577.33" y1="100" x2="579.67" y2="100" stroke="#444" stroke-width="0.8"/>
<rect x="576.15" y="82.5" width="4.7" height="9.3" fill="none" stroke="#5b9bd5" stroke-width="0.75"/>
<line x1="575.65" y1="84.8" x2="581.35" y2="84.8" stroke="#dde21c" stroke-width="1.8"/>
<line x1="587.6" y1="75.5" x2="587.6" y2="75.9" stroke="#5a9ad4" stroke-width="0.85"/>
<line x1="586.43" y1="75.5" x2="588.77" y2="75.5" stroke="#444" stroke-width="0.8"/>
<line x1="587.6" y1="85.3" x2="587.6" y2="89.5" stroke="#5a9ad4" stroke-width="0.85"/>
<line x1="586.43" y1="89.5" x2="588.77" y2="89.5" stroke="#444" stroke-width="0.8"/>
<rect x="585.25" y="75.9" width="4.7" height="9.4" fill="none" stroke="#5b9bd5" stroke-width="0.75"/>
<line x1="584.75" y1="81.8" x2="590.45" y2="81.8" stroke="#dde21c" stroke-width="1.8"/>
<line x1="596.7" y1="44" x2="596.7" y2="51.5" stroke="#5a9ad4" stroke-width="0.85"/>
<line x1="595.52" y1="44" x2="597.87" y2="44" stroke="#444" stroke-width="0.8"/>
<line x1="596.7" y1="104.4" x2="596.7" y2="167.3" stroke="#5a9ad4" stroke-width="0.85"/>
<line x1="595.52" y1="167.3" x2="597.87" y2="167.3" stroke="#444" stroke-width="0.8"/>
<rect x="594.35" y="51.5" width="4.7" height="52.9" fill="none" stroke="#5b9bd5" stroke-width="0.75"/>
<line x1="593.85" y1="78.3" x2="599.55" y2="78.3" stroke="#dde21c" stroke-width="1.8"/>
<line x1="602.95" y1="38.6" x2="608.65" y2="38.6" stroke="#dde21c" stroke-width="1.8"/>
<circle cx="605.8" cy="45.6" r="1.25" fill="none" stroke="#444" stroke-width="0.6"/>
<text x="563.1" y="179.4" font-family="Liberation Sans" font-size="6.6" font-weight="bold" text-anchor="start" fill="#d0202a" transform="rotate(45 563.1 179.4)" stroke="#d0202a" stroke-width="0.25">HSL</text>
<text x="573.3" y="179.1" font-family="Liberation Serif" font-size="6.6" text-anchor="start" fill="#222" transform="rotate(45 573.3 179.1)" stroke="#222" stroke-width="0.08">FedBN</text>
<text x="582.4" y="179.1" font-family="Liberation Serif" font-size="6.6" text-anchor="start" fill="#222" transform="rotate(45 582.4 179.1)" stroke="#222" stroke-width="0.08">FedProx</text>
<text x="591.5" y="179.1" font-family="Liberation Serif" font-size="6.6" text-anchor="start" fill="#222" transform="rotate(45 591.5 179.1)" stroke="#222" stroke-width="0.08">Personized</text>
<text x="600.6" y="179.1" font-family="Liberation Serif" font-size="6.6" text-anchor="start" fill="#222" transform="rotate(45 600.6 179.1)" stroke="#222" stroke-width="0.08">SplitAVG</text>
<line x1="619.5" y1="31.8" x2="665.5" y2="31.8" stroke="#d0d0d0" stroke-width="0.8"/>
<line x1="617.9" y1="31.8" x2="619.5" y2="31.8" stroke="#444" stroke-width="0.7"/>
<line x1="619.5" y1="61.3" x2="665.5" y2="61.3" stroke="#d0d0d0" stroke-width="0.8"/>
<line x1="617.9" y1="61.3" x2="619.5" y2="61.3" stroke="#444" stroke-width="0.7"/>
<line x1="619.5" y1="88.3" x2="665.5" y2="88.3" stroke="#d0d0d0" stroke-width="0.8"/>
<line x1="617.9" y1="88.3" x2="619.5" y2="88.3" stroke="#444" stroke-width="0.7"/>
<line x1="619.5" y1="116.2" x2="665.5" y2="116.2" stroke="#d0d0d0" stroke-width="0.8"/>
<line x1="617.9" y1="116.2" x2="619.5" y2="116.2" stroke="#444" stroke-width="0.7"/>
<line x1="619.5" y1="147.3" x2="665.5" y2="147.3" stroke="#d0d0d0" stroke-width="0.8"/>
<line x1="617.9" y1="147.3" x2="619.5" y2="147.3" stroke="#444" stroke-width="0.7"/>
<line x1="624.4" y1="23.5" x2="624.4" y2="173.5" stroke="#dadada" stroke-width="0.8" stroke-dasharray="1.3 0.9"/>
<line x1="624.4" y1="173.5" x2="624.4" y2="174.9" stroke="#444" stroke-width="0.7"/>
<line x1="633.5" y1="23.5" x2="633.5" y2="173.5" stroke="#dadada" stroke-width="0.8"/>
<line x1="633.5" y1="173.5" x2="633.5" y2="174.9" stroke="#444" stroke-width="0.7"/>
<line x1="642.6" y1="23.5" x2="642.6" y2="173.5" stroke="#dadada" stroke-width="0.8"/>
<line x1="642.6" y1="173.5" x2="642.6" y2="174.9" stroke="#444" stroke-width="0.7"/>
<line x1="651.7" y1="23.5" x2="651.7" y2="173.5" stroke="#dadada" stroke-width="0.8"/>
<line x1="651.7" y1="173.5" x2="651.7" y2="174.9" stroke="#444" stroke-width="0.7"/>
<line x1="660.8" y1="23.5" x2="660.8" y2="173.5" stroke="#dadada" stroke-width="0.8"/>
<line x1="660.8" y1="173.5" x2="660.8" y2="174.9" stroke="#444" stroke-width="0.7"/>
<rect x="619.5" y="23.5" width="46" height="150" fill="none" stroke="#7c7c7c" stroke-width="1"/>
<text x="642.7" y="19.9" font-family="Liberation Serif" font-size="7.8" text-anchor="middle" fill="#000">Node 7</text>
<line x1="624.4" y1="36" x2="624.4" y2="41.5" stroke="#e8434b" stroke-width="0.85"/>
<line x1="623.23" y1="41.5" x2="625.57" y2="41.5" stroke="#e8434b" stroke-width="0.8"/>
<rect x="622.05" y="29.9" width="4.7" height="6.1" fill="none" stroke="#e8434b" stroke-width="0.75"/>
<line x1="621.55" y1="35.4" x2="627.25" y2="35.4" stroke="#dde21c" stroke-width="1.8"/>
<line x1="633.5" y1="91.3" x2="633.5" y2="96.8" stroke="#5a9ad4" stroke-width="0.85"/>
<line x1="632.33" y1="91.3" x2="634.67" y2="91.3" stroke="#444" stroke-width="0.8"/>
<line x1="633.5" y1="101.5" x2="633.5" y2="103.7" stroke="#5a9ad4" stroke-width="0.85"/>
<line x1="632.33" y1="103.7" x2="634.67" y2="103.7" stroke="#444" stroke-width="0.8"/>
<rect x="631.15" y="96.8" width="4.7" height="4.7" fill="none" stroke="#5b9bd5" stroke-width="0.75"/>
<line x1="630.65" y1="100.1" x2="636.35" y2="100.1" stroke="#dde21c" stroke-width="1.8"/>
<line x1="642.6" y1="83" x2="642.6" y2="92.1" stroke="#5a9ad4" stroke-width="0.85"/>
<line x1="641.43" y1="83" x2="643.77" y2="83" stroke="#444" stroke-width="0.8"/>
<line x1="642.6" y1="99.6" x2="642.6" y2="101.5" stroke="#5a9ad4" stroke-width="0.85"/>
<line x1="641.43" y1="101.5" x2="643.77" y2="101.5" stroke="#444" stroke-width="0.8"/>
<rect x="640.25" y="92.1" width="4.7" height="7.5" fill="none" stroke="#5b9bd5" stroke-width="0.75"/>
<line x1="639.75" y1="92.6" x2="645.45" y2="92.6" stroke="#dde21c" stroke-width="1.8"/>
<line x1="651.7" y1="53.4" x2="651.7" y2="75.2" stroke="#5a9ad4" stroke-width="0.85"/>
<line x1="650.52" y1="53.4" x2="652.87" y2="53.4" stroke="#444" stroke-width="0.8"/>
<line x1="651.7" y1="163.2" x2="651.7" y2="167.3" stroke="#5a9ad4" stroke-width="0.85"/>
<line x1="650.52" y1="167.3" x2="652.87" y2="167.3" stroke="#444" stroke-width="0.8"/>
<rect x="649.35" y="75.2" width="4.7" height="88" fill="none" stroke="#5b9bd5" stroke-width="0.75"/>
<line x1="648.85" y1="149.3" x2="654.55" y2="149.3" stroke="#dde21c" stroke-width="1.8"/>
<line x1="657.95" y1="70" x2="663.65" y2="70" stroke="#dde21c" stroke-width="1.8"/>
<circle cx="660.8" cy="63" r="1.25" fill="none" stroke="#444" stroke-width="0.6"/>
<text x="618.1" y="179.4" font-family="Liberation Sans" font-size="6.6" font-weight="bold" text-anchor="start" fill="#d0202a" transform="rotate(45 618.1 179.4)" stroke="#d0202a" stroke-width="0.25">HSL</text>
<text x="628.3" y="179.1" font-family="Liberation Serif" font-size="6.6" text-anchor="start" fill="#222" transform="rotate(45 628.3 179.1)" stroke="#222" stroke-width="0.08">FedBN</text>
<text x="637.4" y="179.1" font-family="Liberation Serif" font-size="6.6" text-anchor="start" fill="#222" transform="rotate(45 637.4 179.1)" stroke="#222" stroke-width="0.08">FedProx</text>
<text x="646.5" y="179.1" font-family="Liberation Serif" font-size="6.6" text-anchor="start" fill="#222" transform="rotate(45 646.5 179.1)" stroke="#222" stroke-width="0.08">Personized</text>
<text x="655.6" y="179.1" font-family="Liberation Serif" font-size="6.6" text-anchor="start" fill="#222" transform="rotate(45 655.6 179.1)" stroke="#222" stroke-width="0.08">SplitAVG</text>
<text x="280.8" y="45.3" font-family="Liberation Serif" font-size="8" text-anchor="end" fill="#000">1.0</text>
<text x="280.8" y="73.4" font-family="Liberation Serif" font-size="8" text-anchor="end" fill="#000">0.8</text>
<text x="280.8" y="101.8" font-family="Liberation Serif" font-size="8" text-anchor="end" fill="#000">0.6</text>
<text x="280.8" y="130.1" font-family="Liberation Serif" font-size="8" text-anchor="end" fill="#000">0.4</text>
<text x="280.8" y="147.1" font-family="Liberation Serif" font-size="8" text-anchor="end" fill="#000">0.2</text>
<text x="280.8" y="175" font-family="Liberation Serif" font-size="8" text-anchor="end" fill="#000">0.0</text>
<text x="12.9" y="217" font-family="Liberation Serif" font-size="9.5" font-weight="bold" text-anchor="start" fill="#000">B1. Label Skew: Data Distribution</text>
<line x1="19.4" y1="317.9" x2="248.6" y2="317.9" stroke="#d9d9d9" stroke-width="0.9"/>
<line x1="19.4" y1="306.38" x2="248.6" y2="306.38" stroke="#d9d9d9" stroke-width="0.9"/>
<line x1="19.4" y1="294.85" x2="248.6" y2="294.85" stroke="#d9d9d9" stroke-width="0.9"/>
<line x1="19.4" y1="283.32" x2="248.6" y2="283.32" stroke="#d9d9d9" stroke-width="0.9"/>
<line x1="19.4" y1="271.8" x2="248.6" y2="271.8" stroke="#d9d9d9" stroke-width="0.9"/>
<line x1="19.4" y1="260.27" x2="248.6" y2="260.27" stroke="#d9d9d9" stroke-width="0.9"/>
<line x1="19.4" y1="248.75" x2="248.6" y2="248.75" stroke="#d9d9d9" stroke-width="0.9"/>
<line x1="19.4" y1="237.22" x2="248.6" y2="237.22" stroke="#d9d9d9" stroke-width="0.9"/>
<line x1="19.4" y1="225.7" x2="248.6" y2="225.7" stroke="#d9d9d9" stroke-width="0.9"/>
<text x="16.2" y="320.4" font-family="Liberation Serif" font-size="7.6" text-anchor="end" fill="#333" textLength="3.32" lengthAdjust="spacingAndGlyphs">0</text>
<text x="16.2" y="297.35" font-family="Liberation Serif" font-size="7.6" text-anchor="end" fill="#333" textLength="13.28" lengthAdjust="spacingAndGlyphs">1000</text>
<text x="16.2" y="274.3" font-family="Liberation Serif" font-size="7.6" text-anchor="end" fill="#333" textLength="13.28" lengthAdjust="spacingAndGlyphs">2000</text>
<text x="16.2" y="251.25" font-family="Liberation Serif" font-size="7.6" text-anchor="end" fill="#333" textLength="13.28" lengthAdjust="spacingAndGlyphs">3000</text>
<text x="16.2" y="228.2" font-family="Liberation Serif" font-size="7.6" text-anchor="end" fill="#333" textLength="13.28" lengthAdjust="spacingAndGlyphs">4000</text>
<rect x="23.8" y="226.6" width="4.6" height="61.3" fill="#ffc010"/>
<rect x="23.8" y="287.9" width="4.6" height="30" fill="#536a31"/>
<rect x="29" y="226.4" width="4.8" height="45.4" fill="#fee2a6" stroke="#808080" stroke-width="0.55" stroke-dasharray="1.3 1.3"/>
<rect x="29" y="271.8" width="4.8" height="46.1" fill="#a5a98c" stroke="#808080" stroke-width="0.55" stroke-dasharray="1.3 1.3"/>
<text x="24.6" y="324.6" font-family="Liberation Serif" font-size="6.3" text-anchor="start" fill="#000" transform="rotate(45 24.6 324.6)">2:1</text>
<rect x="47" y="226.6" width="4.6" height="73.4" fill="#ffc010"/>
<rect x="47" y="300" width="4.6" height="17.9" fill="#536a31"/>
<rect x="52.2" y="226.4" width="4.8" height="45.4" fill="#fee2a6" stroke="#808080" stroke-width="0.55" stroke-dasharray="1.3 1.3"/>
<rect x="52.2" y="271.8" width="4.8" height="46.1" fill="#a5a98c" stroke="#808080" stroke-width="0.55" stroke-dasharray="1.3 1.3"/>
<text x="47.8" y="324.6" font-family="Liberation Serif" font-size="6.3" text-anchor="start" fill="#000" transform="rotate(45 47.8 324.6)">4:1</text>
<rect x="70.2" y="226.6" width="4.6" height="78.4" fill="#ffc010"/>
<rect x="70.2" y="305" width="4.6" height="12.9" fill="#536a31"/>
<rect x="75.4" y="226.4" width="4.8" height="45.4" fill="#fee2a6" stroke="#808080" stroke-width="0.55" stroke-dasharray="1.3 1.3"/>
<rect x="75.4" y="271.8" width="4.8" height="46.1" fill="#a5a98c" stroke="#808080" stroke-width="0.55" stroke-dasharray="1.3 1.3"/>
<text x="71" y="324.6" font-family="Liberation Serif" font-size="6.3" text-anchor="start" fill="#000" transform="rotate(45 71 324.6)">6:1</text>
<rect x="93.9" y="226.6" width="4.6" height="81.2" fill="#ffc010"/>
<rect x="93.9" y="307.8" width="4.6" height="10.1" fill="#536a31"/>
<rect x="99.1" y="226.4" width="4.8" height="45.4" fill="#fee2a6" stroke="#808080" stroke-width="0.55" stroke-dasharray="1.3 1.3"/>
<rect x="99.1" y="271.8" width="4.8" height="46.1" fill="#a5a98c" stroke="#808080" stroke-width="0.55" stroke-dasharray="1.3 1.3"/>
<text x="94.7" y="324.6" font-family="Liberation Serif" font-size="6.3" text-anchor="start" fill="#000" transform="rotate(45 94.7 324.6)">8:1</text>
<rect x="116.9" y="226.6" width="4.6" height="83.4" fill="#ffc010"/>
<rect x="116.9" y="310" width="4.6" height="7.9" fill="#536a31"/>
<rect x="122.1" y="226.4" width="4.8" height="45.4" fill="#fee2a6" stroke="#808080" stroke-width="0.55" stroke-dasharray="1.3 1.3"/>
<rect x="122.1" y="271.8" width="4.8" height="46.1" fill="#a5a98c" stroke="#808080" stroke-width="0.55" stroke-dasharray="1.3 1.3"/>
<text x="117.7" y="324.6" font-family="Liberation Serif" font-size="6.3" text-anchor="start" fill="#000" transform="rotate(45 117.7 324.6)">10:1</text>
<rect x="140.8" y="226.6" width="4.6" height="87.1" fill="#ffc010"/>
<rect x="140.8" y="313.7" width="4.6" height="4.2" fill="#536a31"/>
<rect x="146" y="226.4" width="4.8" height="45.4" fill="#fee2a6" stroke="#808080" stroke-width="0.55" stroke-dasharray="1.3 1.3"/>
<rect x="146" y="271.8" width="4.8" height="46.1" fill="#a5a98c" stroke="#808080" stroke-width="0.55" stroke-dasharray="1.3 1.3"/>
<text x="141.6" y="324.6" font-family="Liberation Serif" font-size="6.3" text-anchor="start" fill="#000" transform="rotate(45 141.6 324.6)">20:1</text>
<rect x="162.9" y="226.6" width="4.6" height="89.2" fill="#ffc010"/>
<rect x="162.9" y="315.8" width="4.6" height="2.1" fill="#536a31"/>
<rect x="168.1" y="226.4" width="4.8" height="45.4" fill="#fee2a6" stroke="#808080" stroke-width="0.55" stroke-dasharray="1.3 1.3"/>
<rect x="168.1" y="271.8" width="4.8" height="46.1" fill="#a5a98c" stroke="#808080" stroke-width="0.55" stroke-dasharray="1.3 1.3"/>
<text x="163.7" y="324.6" font-family="Liberation Serif" font-size="6.3" text-anchor="start" fill="#000" transform="rotate(45 163.7 324.6)">40:1</text>
<rect x="187.3" y="226.6" width="4.6" height="89.5" fill="#ffc010"/>
<rect x="187.3" y="316.1" width="4.6" height="1.8" fill="#536a31"/>
<rect x="192.5" y="226.4" width="4.8" height="45.4" fill="#fee2a6" stroke="#808080" stroke-width="0.55" stroke-dasharray="1.3 1.3"/>
<rect x="192.5" y="271.8" width="4.8" height="46.1" fill="#a5a98c" stroke="#808080" stroke-width="0.55" stroke-dasharray="1.3 1.3"/>
<text x="188.1" y="324.6" font-family="Liberation Serif" font-size="6.3" text-anchor="start" fill="#000" transform="rotate(45 188.1 324.6)">60:1</text>
<rect x="210.2" y="226.6" width="4.6" height="90.2" fill="#ffc010"/>
<rect x="210.2" y="316.8" width="4.6" height="1.1" fill="#536a31"/>
<rect x="215.4" y="226.4" width="4.8" height="45.4" fill="#fee2a6" stroke="#808080" stroke-width="0.55" stroke-dasharray="1.3 1.3"/>
<rect x="215.4" y="271.8" width="4.8" height="46.1" fill="#a5a98c" stroke="#808080" stroke-width="0.55" stroke-dasharray="1.3 1.3"/>
<text x="211" y="324.6" font-family="Liberation Serif" font-size="6.3" text-anchor="start" fill="#000" transform="rotate(45 211 324.6)">80:1</text>
<rect x="234.8" y="226.6" width="4.6" height="90.3" fill="#ffc010"/>
<rect x="234.8" y="316.9" width="4.6" height="1" fill="#536a31"/>
<rect x="240" y="226.4" width="4.8" height="45.4" fill="#fee2a6" stroke="#808080" stroke-width="0.55" stroke-dasharray="1.3 1.3"/>
<rect x="240" y="271.8" width="4.8" height="46.1" fill="#a5a98c" stroke="#808080" stroke-width="0.55" stroke-dasharray="1.3 1.3"/>
<text x="235.6" y="324.6" font-family="Liberation Serif" font-size="6.3" text-anchor="start" fill="#000" transform="rotate(45 235.6 324.6)">100:1</text>
<rect x="161.9" y="206.6" width="5.7" height="5.6" fill="#ffc010"/>
<rect x="161.9" y="212.2" width="5.7" height="5.7" fill="#536a31"/>
<text x="174.2" y="217" font-family="Liberation Serif" font-size="9.1" text-anchor="start" fill="#000">Node 1</text>
<rect x="209.3" y="206.6" width="5.7" height="5.6" fill="#fee2a6" stroke="#8a8a8a" stroke-width="0.5" stroke-dasharray="0.8 0.8"/>
<rect x="209.3" y="212.2" width="5.7" height="5.7" fill="#a5a98c" stroke="#8a8a8a" stroke-width="0.5" stroke-dasharray="0.8 0.8"/>
<text x="221.6" y="217" font-family="Liberation Serif" font-size="9.1" text-anchor="start" fill="#000">Node 2</text>
<text x="12.9" y="349" font-family="Liberation Serif" font-size="9.5" font-weight="bold" text-anchor="start" fill="#000">C1. Quantity Skew: Data Distribution</text>
<line x1="21.4" y1="456.3" x2="248.4" y2="456.3" stroke="#d9d9d9" stroke-width="0.9"/>
<line x1="21.4" y1="444.05" x2="248.4" y2="444.05" stroke="#d9d9d9" stroke-width="0.9"/>
<line x1="21.4" y1="431.8" x2="248.4" y2="431.8" stroke="#d9d9d9" stroke-width="0.9"/>
<line x1="21.4" y1="419.55" x2="248.4" y2="419.55" stroke="#d9d9d9" stroke-width="0.9"/>
<line x1="21.4" y1="407.3" x2="248.4" y2="407.3" stroke="#d9d9d9" stroke-width="0.9"/>
<line x1="21.4" y1="395.05" x2="248.4" y2="395.05" stroke="#d9d9d9" stroke-width="0.9"/>
<line x1="21.4" y1="382.8" x2="248.4" y2="382.8" stroke="#d9d9d9" stroke-width="0.9"/>
<line x1="21.4" y1="370.55" x2="248.4" y2="370.55" stroke="#d9d9d9" stroke-width="0.9"/>
<line x1="21.4" y1="358.3" x2="248.4" y2="358.3" stroke="#d9d9d9" stroke-width="0.9"/>
<text x="16.1" y="458.85" font-family="Liberation Serif" font-size="7.5" text-anchor="end" fill="#333">4000</text>
<text x="16.1" y="433.75" font-family="Liberation Serif" font-size="7.5" text-anchor="end" fill="#333">2000</text>
<text x="16.1" y="409.05" font-family="Liberation Serif" font-size="7.5" text-anchor="end" fill="#333">0</text>
<text x="16.1" y="383.75" font-family="Liberation Serif" font-size="7.5" text-anchor="end" fill="#333">2000</text>
<text x="16.1" y="358.75" font-family="Liberation Serif" font-size="7.5" text-anchor="end" fill="#333">4000</text>
<rect x="26.1" y="381.2" width="7.8" height="26.1" fill="#536a31"/>
<rect x="26.1" y="407.3" width="7.8" height="25.3" fill="#ffc010"/>
<rect x="34.6" y="381.2" width="7.6" height="26.1" fill="#fee2a6" stroke="#808080" stroke-width="0.55" stroke-dasharray="1.3 1.3"/>
<rect x="34.6" y="407.3" width="7.6" height="25.3" fill="#a5a98c" stroke="#808080" stroke-width="0.55" stroke-dasharray="1.3 1.3"/>
<text x="29.8" y="466" font-family="Liberation Serif" font-size="6.3" text-anchor="start" fill="#000" transform="rotate(45 29.8 466)">1:1</text>
<rect x="49.6" y="391.6" width="7.8" height="15.7" fill="#536a31"/>
<rect x="49.6" y="407.3" width="7.8" height="16" fill="#ffc010"/>
<rect x="58.1" y="372.3" width="7.6" height="35" fill="#fee2a6" stroke="#808080" stroke-width="0.55" stroke-dasharray="1.3 1.3"/>
<rect x="58.1" y="407.3" width="7.6" height="35.7" fill="#a5a98c" stroke="#808080" stroke-width="0.55" stroke-dasharray="1.3 1.3"/>
<text x="53.3" y="466" font-family="Liberation Serif" font-size="6.3" text-anchor="start" fill="#000" transform="rotate(45 53.3 466)">2:1</text>
<rect x="72.2" y="398" width="7.8" height="9.3" fill="#536a31"/>
<rect x="72.2" y="407.3" width="7.8" height="9.4" fill="#ffc010"/>
<rect x="80.7" y="364.7" width="7.6" height="42.6" fill="#fee2a6" stroke="#808080" stroke-width="0.55" stroke-dasharray="1.3 1.3"/>
<rect x="80.7" y="407.3" width="7.6" height="43" fill="#a5a98c" stroke="#808080" stroke-width="0.55" stroke-dasharray="1.3 1.3"/>
<text x="75.9" y="466" font-family="Liberation Serif" font-size="6.3" text-anchor="start" fill="#000" transform="rotate(45 75.9 466)">4:1</text>
<rect x="95.1" y="400.9" width="7.8" height="6.4" fill="#536a31"/>
<rect x="95.1" y="407.3" width="7.8" height="7.3" fill="#ffc010"/>
<rect x="103.6" y="361.8" width="7.6" height="45.5" fill="#fee2a6" stroke="#808080" stroke-width="0.55" stroke-dasharray="1.3 1.3"/>
<rect x="103.6" y="407.3" width="7.6" height="45.8" fill="#a5a98c" stroke="#808080" stroke-width="0.55" stroke-dasharray="1.3 1.3"/>
<text x="98.8" y="466" font-family="Liberation Serif" font-size="6.3" text-anchor="start" fill="#000" transform="rotate(45 98.8 466)">6:1</text>
<rect x="117.2" y="402" width="7.8" height="5.3" fill="#536a31"/>
<rect x="117.2" y="407.3" width="7.8" height="5.6" fill="#ffc010"/>
<rect x="125.7" y="360.4" width="7.6" height="46.9" fill="#fee2a6" stroke="#808080" stroke-width="0.55" stroke-dasharray="1.3 1.3"/>
<rect x="125.7" y="407.3" width="7.6" height="47.6" fill="#a5a98c" stroke="#808080" stroke-width="0.55" stroke-dasharray="1.3 1.3"/>
<text x="120.9" y="466" font-family="Liberation Serif" font-size="6.3" text-anchor="start" fill="#000" transform="rotate(45 120.9 466)">8:1</text>
<rect x="139.4" y="403.4" width="7.8" height="3.9" fill="#536a31"/>
<rect x="139.4" y="407.3" width="7.8" height="4.2" fill="#ffc010"/>
<rect x="147.9" y="359" width="7.6" height="48.3" fill="#fee2a6" stroke="#808080" stroke-width="0.55" stroke-dasharray="1.3 1.3"/>
<rect x="147.9" y="407.3" width="7.6" height="48.6" fill="#a5a98c" stroke="#808080" stroke-width="0.55" stroke-dasharray="1.3 1.3"/>
<text x="143.1" y="466" font-family="Liberation Serif" font-size="6.3" text-anchor="start" fill="#000" transform="rotate(45 143.1 466)">10:1</text>
<rect x="161.9" y="405" width="7.8" height="2.3" fill="#536a31"/>
<rect x="161.9" y="407.3" width="7.8" height="2.6" fill="#ffc010"/>
<rect x="170.4" y="356.8" width="7.6" height="50.5" fill="#fee2a6" stroke="#808080" stroke-width="0.55" stroke-dasharray="1.3 1.3"/>
<rect x="170.4" y="407.3" width="7.6" height="50.8" fill="#a5a98c" stroke="#808080" stroke-width="0.55" stroke-dasharray="1.3 1.3"/>
<text x="165.6" y="466" font-family="Liberation Serif" font-size="6.3" text-anchor="start" fill="#000" transform="rotate(45 165.6 466)">20:1</text>
<rect x="184" y="406" width="7.8" height="1.3" fill="#536a31"/>
<rect x="184" y="407.3" width="7.8" height="1.6" fill="#ffc010"/>
<rect x="192.5" y="355.3" width="7.6" height="52" fill="#fee2a6" stroke="#808080" stroke-width="0.55" stroke-dasharray="1.3 1.3"/>
<rect x="192.5" y="407.3" width="7.6" height="51.8" fill="#a5a98c" stroke="#808080" stroke-width="0.55" stroke-dasharray="1.3 1.3"/>
<text x="187.7" y="466" font-family="Liberation Serif" font-size="6.3" text-anchor="start" fill="#000" transform="rotate(45 187.7 466)">40:1</text>
<rect x="206.2" y="406.6" width="7.8" height="0.7" fill="#536a31"/>
<rect x="206.2" y="407.3" width="7.8" height="1" fill="#ffc010"/>
<rect x="214.7" y="354.9" width="7.6" height="52.4" fill="#fee2a6" stroke="#808080" stroke-width="0.55" stroke-dasharray="1.3 1.3"/>
<rect x="214.7" y="407.3" width="7.6" height="52.7" fill="#a5a98c" stroke="#808080" stroke-width="0.55" stroke-dasharray="1.3 1.3"/>
<text x="209.9" y="466" font-family="Liberation Serif" font-size="6.3" text-anchor="start" fill="#000" transform="rotate(45 209.9 466)">60:1</text>
<rect x="229" y="406.8" width="7.8" height="0.5" fill="#536a31"/>
<rect x="229" y="407.3" width="7.8" height="0.7" fill="#ffc010"/>
<rect x="237.5" y="354.9" width="7.6" height="52.4" fill="#fee2a6" stroke="#808080" stroke-width="0.55" stroke-dasharray="1.3 1.3"/>
<rect x="237.5" y="407.3" width="7.6" height="52.7" fill="#a5a98c" stroke="#808080" stroke-width="0.55" stroke-dasharray="1.3 1.3"/>
<text x="232.7" y="466" font-family="Liberation Serif" font-size="6.3" text-anchor="start" fill="#000" transform="rotate(45 232.7 466)">80:1</text>
<rect x="175.6" y="341" width="5.4" height="5.1" fill="#ffc010"/>
<rect x="175.6" y="346.1" width="5.4" height="5.1" fill="#536a31"/>
<text x="187.4" y="351.8" font-family="Liberation Serif" font-size="9.1" text-anchor="start" fill="#000">Node 1</text>
<rect x="222.4" y="341" width="5.6" height="5.1" fill="#fee2a6" stroke="#8a8a8a" stroke-width="0.5" stroke-dasharray="0.8 0.8"/>
<rect x="222.4" y="346.1" width="5.6" height="5.1" fill="#a5a98c" stroke="#8a8a8a" stroke-width="0.5" stroke-dasharray="0.8 0.8"/>
<text x="235" y="351.8" font-family="Liberation Serif" font-size="9.1" text-anchor="start" fill="#000">Node 2</text>
<text x="371.2" y="217" font-family="Liberation Serif" font-size="9.5" font-weight="bold" text-anchor="start" fill="#000">B2. Label Skew: Performance Comparison</text>
<text x="365.8" y="349.5" font-family="Liberation Serif" font-size="9.5" font-weight="bold" text-anchor="start" fill="#000">C2. Quantity Skew: Performance Comparison</text>
<polyline points="273.5,257.9 293.1,260.5 312.7,261.9 332.3,260.8 351.9,261.3 371.5,264.4 391.1,264.8 410.7,265.7 430.3,266.2 449.9,265.8" fill="none" stroke="#ff7f0e" stroke-width="1.5" stroke-linejoin="round"/>
<polyline points="273.5,257.9 293.1,260.1 312.7,261.1 332.3,260.4 351.9,261.3 371.5,263.9 391.1,265.1 410.7,265.7 430.3,266.5 449.9,267.4" fill="none" stroke="#d9e01c" stroke-width="1.5" stroke-linejoin="round"/>
<polyline points="273.5,251.4 293.1,249.6 312.7,250.6 332.3,254 351.9,252.5 371.5,253.9 391.1,256.6 410.7,253.9 430.3,254.3 449.9,256" fill="none" stroke="#9467bd" stroke-width="1.5" stroke-linejoin="round"/>
<polyline points="273.5,252.8 293.1,251.4 312.7,244.8 332.3,255.7 351.9,249.2 371.5,252.5 391.1,247.3 410.7,253.8 430.3,249.4 449.9,253" fill="none" stroke="#d62728" stroke-width="1.5" stroke-linejoin="round"/>
<polyline points="273.5,243.8 293.1,242.7 312.7,240.8 332.3,243.2 351.9,242.6 371.5,244.6 391.1,245.5 410.7,245.9 430.3,246.2 449.9,248" fill="none" stroke="#1f77b4" stroke-width="1.5" stroke-linejoin="round"/>
<rect x="264.5" y="232.5" width="194" height="84" fill="none" stroke="#222" stroke-width="1.15"/>
<line x1="458.5" y1="232.1" x2="460.5" y2="232.1" stroke="#222" stroke-width="1"/>
<text x="462.7" y="234.5" font-family="Liberation Sans" font-size="5.8" text-anchor="start" fill="#222">1.0</text>
<line x1="458.5" y1="249" x2="460.5" y2="249" stroke="#222" stroke-width="1"/>
<text x="462.7" y="251.4" font-family="Liberation Sans" font-size="5.8" text-anchor="start" fill="#222">0.8</text>
<line x1="458.5" y1="265.8" x2="460.5" y2="265.8" stroke="#222" stroke-width="1"/>
<text x="462.7" y="268.2" font-family="Liberation Sans" font-size="5.8" text-anchor="start" fill="#222">0.6</text>
<line x1="458.5" y1="282.6" x2="460.5" y2="282.6" stroke="#222" stroke-width="1"/>
<text x="462.7" y="285" font-family="Liberation Sans" font-size="5.8" text-anchor="start" fill="#222">0.4</text>
<line x1="458.5" y1="299.4" x2="460.5" y2="299.4" stroke="#222" stroke-width="1"/>
<text x="462.7" y="301.8" font-family="Liberation Sans" font-size="5.8" text-anchor="start" fill="#222">0.2</text>
<line x1="458.5" y1="316.2" x2="460.5" y2="316.2" stroke="#222" stroke-width="1"/>
<text x="462.7" y="318.6" font-family="Liberation Sans" font-size="5.8" text-anchor="start" fill="#222">0.0</text>
<line x1="273.5" y1="316.5" x2="273.5" y2="318.7" stroke="#000" stroke-width="0.8"/>
<text x="267.6" y="324.8" font-family="Liberation Serif" font-size="6.8" text-anchor="start" fill="#000" transform="rotate(45 267.6 324.8)">2:1</text>
<line x1="293.1" y1="316.5" x2="293.1" y2="318.7" stroke="#000" stroke-width="0.8"/>
<text x="287.2" y="324.8" font-family="Liberation Serif" font-size="6.8" text-anchor="start" fill="#000" transform="rotate(45 287.2 324.8)">4:1</text>
<line x1="312.7" y1="316.5" x2="312.7" y2="318.7" stroke="#000" stroke-width="0.8"/>
<text x="306.8" y="324.8" font-family="Liberation Serif" font-size="6.8" text-anchor="start" fill="#000" transform="rotate(45 306.8 324.8)">6:1</text>
<line x1="332.3" y1="316.5" x2="332.3" y2="318.7" stroke="#000" stroke-width="0.8"/>
<text x="326.4" y="324.8" font-family="Liberation Serif" font-size="6.8" text-anchor="start" fill="#000" transform="rotate(45 326.4 324.8)">8:1</text>
<line x1="351.9" y1="316.5" x2="351.9" y2="318.7" stroke="#000" stroke-width="0.8"/>
<text x="346" y="324.8" font-family="Liberation Serif" font-size="6.8" text-anchor="start" fill="#000" transform="rotate(45 346 324.8)">10:1</text>
<line x1="371.5" y1="316.5" x2="371.5" y2="318.7" stroke="#000" stroke-width="0.8"/>
<text x="365.6" y="324.8" font-family="Liberation Serif" font-size="6.8" text-anchor="start" fill="#000" transform="rotate(45 365.6 324.8)">20:1</text>
<line x1="391.1" y1="316.5" x2="391.1" y2="318.7" stroke="#000" stroke-width="0.8"/>
<text x="385.2" y="324.8" font-family="Liberation Serif" font-size="6.8" text-anchor="start" fill="#000" transform="rotate(45 385.2 324.8)">40:1</text>
<line x1="410.7" y1="316.5" x2="410.7" y2="318.7" stroke="#000" stroke-width="0.8"/>
<text x="404.8" y="324.8" font-family="Liberation Serif" font-size="6.8" text-anchor="start" fill="#000" transform="rotate(45 404.8 324.8)">60:1</text>
<line x1="430.3" y1="316.5" x2="430.3" y2="318.7" stroke="#000" stroke-width="0.8"/>
<text x="424.4" y="324.8" font-family="Liberation Serif" font-size="6.8" text-anchor="start" fill="#000" transform="rotate(45 424.4 324.8)">80:1</text>
<line x1="449.9" y1="316.5" x2="449.9" y2="318.7" stroke="#000" stroke-width="0.8"/>
<text x="444" y="324.8" font-family="Liberation Serif" font-size="6.8" text-anchor="start" fill="#000" transform="rotate(45 444 324.8)">100:1</text>
<text x="352.2" y="229.7" font-family="Liberation Sans" font-size="7" text-anchor="middle" fill="#000">Node 1</text>
<rect x="266.3" y="274.6" width="46.5" height="39.5" rx="1.2" fill="#fff" fill-opacity="0.8" stroke="#d6d6d6" stroke-width="0.7"/>
<line x1="268.1" y1="279.2" x2="279.9" y2="279.2" stroke="#1f77b4" stroke-width="1.9"/>
<text x="283" y="281.2" font-family="Liberation Sans" font-size="5.56" text-anchor="start" fill="#000">HSL</text>
<line x1="268.1" y1="286.65" x2="279.9" y2="286.65" stroke="#ff7f0e" stroke-width="1.9"/>
<text x="283" y="288.65" font-family="Liberation Sans" font-size="5.56" text-anchor="start" fill="#000">FedBN</text>
<line x1="268.1" y1="294.1" x2="279.9" y2="294.1" stroke="#d9e01c" stroke-width="1.9"/>
<text x="283" y="296.1" font-family="Liberation Sans" font-size="5.56" text-anchor="start" fill="#000">FedProx</text>
<line x1="268.1" y1="301.55" x2="279.9" y2="301.55" stroke="#d62728" stroke-width="1.9"/>
<text x="283" y="303.55" font-family="Liberation Sans" font-size="5.56" text-anchor="start" fill="#000">Personized</text>
<line x1="268.1" y1="309" x2="279.9" y2="309" stroke="#9467bd" stroke-width="1.9"/>
<text x="283" y="311" font-family="Liberation Sans" font-size="5.56" text-anchor="start" fill="#000">SplitAVG</text>
<polyline points="486.4,257.2 506.08,260.7 525.76,261.3 545.44,262.6 565.12,262 584.8,264.9 604.48,262 624.16,268.4 643.84,265.8 663.52,268.1" fill="none" stroke="#ff7f0e" stroke-width="1.5" stroke-linejoin="round"/>
<polyline points="486.4,260 506.08,261 525.76,261 545.44,261.7 565.12,261.3 584.8,265.8 604.48,263.9 624.16,269 643.84,268.4 663.52,263.6" fill="none" stroke="#d9e01c" stroke-width="1.5" stroke-linejoin="round"/>
<polyline points="486.4,253.6 506.08,251.7 525.76,252 545.44,254.6 565.12,250.7 584.8,254.6 604.48,259.4 624.16,268.1 643.84,266.5 663.52,262" fill="none" stroke="#9467bd" stroke-width="1.5" stroke-linejoin="round"/>
<polyline points="486.4,249.8 506.08,247.5 525.76,250.1 545.44,249.1 565.12,248.8 584.8,255.2 604.48,262.6 624.16,260.4 643.84,265.8 663.52,264.2" fill="none" stroke="#d62728" stroke-width="1.5" stroke-linejoin="round"/>
<polyline points="486.4,244 506.08,242.7 525.76,242.1 545.44,243.7 565.12,243 584.8,244.6 604.48,243.7 624.16,249.1 643.84,244.6 663.52,248.5" fill="none" stroke="#1f77b4" stroke-width="1.5" stroke-linejoin="round"/>
<rect x="478" y="232.5" width="194" height="84" fill="none" stroke="#222" stroke-width="1.15"/>
<line x1="672" y1="232.1" x2="674" y2="232.1" stroke="#222" stroke-width="1"/>
<text x="676.2" y="234.5" font-family="Liberation Sans" font-size="5.8" text-anchor="start" fill="#222">1.0</text>
<line x1="672" y1="249" x2="674" y2="249" stroke="#222" stroke-width="1"/>
<text x="676.2" y="251.4" font-family="Liberation Sans" font-size="5.8" text-anchor="start" fill="#222">0.8</text>
<line x1="672" y1="265.8" x2="674" y2="265.8" stroke="#222" stroke-width="1"/>
<text x="676.2" y="268.2" font-family="Liberation Sans" font-size="5.8" text-anchor="start" fill="#222">0.6</text>
<line x1="672" y1="282.6" x2="674" y2="282.6" stroke="#222" stroke-width="1"/>
<text x="676.2" y="285" font-family="Liberation Sans" font-size="5.8" text-anchor="start" fill="#222">0.4</text>
<line x1="672" y1="299.4" x2="674" y2="299.4" stroke="#222" stroke-width="1"/>
<text x="676.2" y="301.8" font-family="Liberation Sans" font-size="5.8" text-anchor="start" fill="#222">0.2</text>
<line x1="672" y1="316.2" x2="674" y2="316.2" stroke="#222" stroke-width="1"/>
<text x="676.2" y="318.6" font-family="Liberation Sans" font-size="5.8" text-anchor="start" fill="#222">0.0</text>
<line x1="486.4" y1="316.5" x2="486.4" y2="318.7" stroke="#000" stroke-width="0.8"/>
<text x="480.5" y="324.8" font-family="Liberation Serif" font-size="6.8" text-anchor="start" fill="#000" transform="rotate(45 480.5 324.8)">2:1</text>
<line x1="506.08" y1="316.5" x2="506.08" y2="318.7" stroke="#000" stroke-width="0.8"/>
<text x="500.18" y="324.8" font-family="Liberation Serif" font-size="6.8" text-anchor="start" fill="#000" transform="rotate(45 500.18 324.8)">4:1</text>
<line x1="525.76" y1="316.5" x2="525.76" y2="318.7" stroke="#000" stroke-width="0.8"/>
<text x="519.86" y="324.8" font-family="Liberation Serif" font-size="6.8" text-anchor="start" fill="#000" transform="rotate(45 519.86 324.8)">6:1</text>
<line x1="545.44" y1="316.5" x2="545.44" y2="318.7" stroke="#000" stroke-width="0.8"/>
<text x="539.54" y="324.8" font-family="Liberation Serif" font-size="6.8" text-anchor="start" fill="#000" transform="rotate(45 539.54 324.8)">8:1</text>
<line x1="565.12" y1="316.5" x2="565.12" y2="318.7" stroke="#000" stroke-width="0.8"/>
<text x="559.22" y="324.8" font-family="Liberation Serif" font-size="6.8" text-anchor="start" fill="#000" transform="rotate(45 559.22 324.8)">10:1</text>
<line x1="584.8" y1="316.5" x2="584.8" y2="318.7" stroke="#000" stroke-width="0.8"/>
<text x="578.9" y="324.8" font-family="Liberation Serif" font-size="6.8" text-anchor="start" fill="#000" transform="rotate(45 578.9 324.8)">20:1</text>
<line x1="604.48" y1="316.5" x2="604.48" y2="318.7" stroke="#000" stroke-width="0.8"/>
<text x="598.58" y="324.8" font-family="Liberation Serif" font-size="6.8" text-anchor="start" fill="#000" transform="rotate(45 598.58 324.8)">40:1</text>
<line x1="624.16" y1="316.5" x2="624.16" y2="318.7" stroke="#000" stroke-width="0.8"/>
<text x="618.26" y="324.8" font-family="Liberation Serif" font-size="6.8" text-anchor="start" fill="#000" transform="rotate(45 618.26 324.8)">60:1</text>
<line x1="643.84" y1="316.5" x2="643.84" y2="318.7" stroke="#000" stroke-width="0.8"/>
<text x="637.94" y="324.8" font-family="Liberation Serif" font-size="6.8" text-anchor="start" fill="#000" transform="rotate(45 637.94 324.8)">80:1</text>
<line x1="663.52" y1="316.5" x2="663.52" y2="318.7" stroke="#000" stroke-width="0.8"/>
<text x="657.62" y="324.8" font-family="Liberation Serif" font-size="6.8" text-anchor="start" fill="#000" transform="rotate(45 657.62 324.8)">100:1</text>
<text x="565.7" y="229.7" font-family="Liberation Sans" font-size="7" text-anchor="middle" fill="#000">Node 2</text>
<rect x="480.1" y="274.6" width="46.5" height="39.5" rx="1.2" fill="#fff" fill-opacity="0.8" stroke="#d6d6d6" stroke-width="0.7"/>
<line x1="481.9" y1="279.2" x2="493.7" y2="279.2" stroke="#1f77b4" stroke-width="1.9"/>
<text x="496.8" y="281.2" font-family="Liberation Sans" font-size="5.56" text-anchor="start" fill="#000">HSL</text>
<line x1="481.9" y1="286.65" x2="493.7" y2="286.65" stroke="#ff7f0e" stroke-width="1.9"/>
<text x="496.8" y="288.65" font-family="Liberation Sans" font-size="5.56" text-anchor="start" fill="#000">FedBN</text>
<line x1="481.9" y1="294.1" x2="493.7" y2="294.1" stroke="#d9e01c" stroke-width="1.9"/>
<text x="496.8" y="296.1" font-family="Liberation Sans" font-size="5.56" text-anchor="start" fill="#000">FedProx</text>
<line x1="481.9" y1="301.55" x2="493.7" y2="301.55" stroke="#d62728" stroke-width="1.9"/>
<text x="496.8" y="303.55" font-family="Liberation Sans" font-size="5.56" text-anchor="start" fill="#000">Personized</text>
<line x1="481.9" y1="309" x2="493.7" y2="309" stroke="#9467bd" stroke-width="1.9"/>
<text x="496.8" y="311" font-family="Liberation Sans" font-size="5.56" text-anchor="start" fill="#000">SplitAVG</text>
<polyline points="273.5,392.8 293.1,394.1 312.7,393.4 332.3,392.5 351.9,392.8 371.5,393.8 391.1,392.8 410.7,393.4 430.3,396.6 449.9,391.2" fill="none" stroke="#ff7f0e" stroke-width="1.5" stroke-linejoin="round"/>
<polyline points="273.5,392.2 293.1,393.4 312.7,392.5 332.3,391.5 351.9,391.2 371.5,393.4 391.1,392.5 410.7,396.2 430.3,391.2 449.9,390" fill="none" stroke="#d9e01c" stroke-width="1.5" stroke-linejoin="round"/>
<polyline points="273.5,394.4 293.1,396 312.7,393.1 332.3,391.2 351.9,393.1 371.5,399.2 391.1,392.8 410.7,390.8 430.3,396.4 449.9,392.2" fill="none" stroke="#9467bd" stroke-width="1.5" stroke-linejoin="round"/>
<polyline points="273.5,390.2 293.1,393.8 312.7,401.8 332.3,397.9 351.9,400.2 371.5,404 391.1,402.1 410.7,404.8 430.3,407.4 449.9,405.1" fill="none" stroke="#d62728" stroke-width="1.5" stroke-linejoin="round"/>
<polyline points="273.5,379 293.1,381.6 312.7,378 332.3,379 351.9,381.9 371.5,377.1 391.1,381.9 410.7,376.8 430.3,382.6 449.9,385.2" fill="none" stroke="#1f77b4" stroke-width="1.5" stroke-linejoin="round"/>
<rect x="264.5" y="363" width="195" height="96.5" fill="none" stroke="#222" stroke-width="1.15"/>
<line x1="459.5" y1="363.7" x2="461.5" y2="363.7" stroke="#222" stroke-width="1"/>
<text x="463.7" y="366.1" font-family="Liberation Sans" font-size="5.8" text-anchor="start" fill="#222">1.0</text>
<line x1="459.5" y1="387.3" x2="461.5" y2="387.3" stroke="#222" stroke-width="1"/>
<text x="463.7" y="389.7" font-family="Liberation Sans" font-size="5.8" text-anchor="start" fill="#222">0.8</text>
<line x1="459.5" y1="411.2" x2="461.5" y2="411.2" stroke="#222" stroke-width="1"/>
<text x="463.7" y="413.6" font-family="Liberation Sans" font-size="5.8" text-anchor="start" fill="#222">0.6</text>
<line x1="459.5" y1="435.3" x2="461.5" y2="435.3" stroke="#222" stroke-width="1"/>
<text x="463.7" y="437.7" font-family="Liberation Sans" font-size="5.8" text-anchor="start" fill="#222">0.4</text>
<line x1="459.5" y1="459.6" x2="461.5" y2="459.6" stroke="#222" stroke-width="1"/>
<text x="463.7" y="462" font-family="Liberation Sans" font-size="5.8" text-anchor="start" fill="#222">0.0</text>
<line x1="273.5" y1="459.5" x2="273.5" y2="461.7" stroke="#000" stroke-width="0.8"/>
<text x="267.6" y="467.8" font-family="Liberation Serif" font-size="6.8" text-anchor="start" fill="#000" transform="rotate(45 267.6 467.8)">1:1</text>
<line x1="293.1" y1="459.5" x2="293.1" y2="461.7" stroke="#000" stroke-width="0.8"/>
<text x="287.2" y="467.8" font-family="Liberation Serif" font-size="6.8" text-anchor="start" fill="#000" transform="rotate(45 287.2 467.8)">2:1</text>
<line x1="312.7" y1="459.5" x2="312.7" y2="461.7" stroke="#000" stroke-width="0.8"/>
<text x="306.8" y="467.8" font-family="Liberation Serif" font-size="6.8" text-anchor="start" fill="#000" transform="rotate(45 306.8 467.8)">4:1</text>
<line x1="332.3" y1="459.5" x2="332.3" y2="461.7" stroke="#000" stroke-width="0.8"/>
<text x="326.4" y="467.8" font-family="Liberation Serif" font-size="6.8" text-anchor="start" fill="#000" transform="rotate(45 326.4 467.8)">6:1</text>
<line x1="351.9" y1="459.5" x2="351.9" y2="461.7" stroke="#000" stroke-width="0.8"/>
<text x="346" y="467.8" font-family="Liberation Serif" font-size="6.8" text-anchor="start" fill="#000" transform="rotate(45 346 467.8)">8:1</text>
<line x1="371.5" y1="459.5" x2="371.5" y2="461.7" stroke="#000" stroke-width="0.8"/>
<text x="365.6" y="467.8" font-family="Liberation Serif" font-size="6.8" text-anchor="start" fill="#000" transform="rotate(45 365.6 467.8)">10:1</text>
<line x1="391.1" y1="459.5" x2="391.1" y2="461.7" stroke="#000" stroke-width="0.8"/>
<text x="385.2" y="467.8" font-family="Liberation Serif" font-size="6.8" text-anchor="start" fill="#000" transform="rotate(45 385.2 467.8)">20:1</text>
<line x1="410.7" y1="459.5" x2="410.7" y2="461.7" stroke="#000" stroke-width="0.8"/>
<text x="404.8" y="467.8" font-family="Liberation Serif" font-size="6.8" text-anchor="start" fill="#000" transform="rotate(45 404.8 467.8)">40:1</text>
<line x1="430.3" y1="459.5" x2="430.3" y2="461.7" stroke="#000" stroke-width="0.8"/>
<text x="424.4" y="467.8" font-family="Liberation Serif" font-size="6.8" text-anchor="start" fill="#000" transform="rotate(45 424.4 467.8)">60:1</text>
<line x1="449.9" y1="459.5" x2="449.9" y2="461.7" stroke="#000" stroke-width="0.8"/>
<text x="444" y="467.8" font-family="Liberation Serif" font-size="6.8" text-anchor="start" fill="#000" transform="rotate(45 444 467.8)">80:1</text>
<text x="352.7" y="360.2" font-family="Liberation Sans" font-size="7" text-anchor="middle" fill="#000">Node 1</text>
<rect x="266.2" y="413.7" width="50.5" height="42.7" rx="1.2" fill="#fff" fill-opacity="0.8" stroke="#d6d6d6" stroke-width="0.7"/>
<line x1="268" y1="419.1" x2="279.8" y2="419.1" stroke="#1f77b4" stroke-width="1.9"/>
<text x="282.9" y="421.1" font-family="Liberation Sans" font-size="5.86" text-anchor="start" fill="#000">HSL</text>
<line x1="268" y1="427.1" x2="279.8" y2="427.1" stroke="#ff7f0e" stroke-width="1.9"/>
<text x="282.9" y="429.1" font-family="Liberation Sans" font-size="5.86" text-anchor="start" fill="#000">FedBN</text>
<line x1="268" y1="435.1" x2="279.8" y2="435.1" stroke="#d9e01c" stroke-width="1.9"/>
<text x="282.9" y="437.1" font-family="Liberation Sans" font-size="5.86" text-anchor="start" fill="#000">FedProx</text>
<line x1="268" y1="443.1" x2="279.8" y2="443.1" stroke="#d62728" stroke-width="1.9"/>
<text x="282.9" y="445.1" font-family="Liberation Sans" font-size="5.86" text-anchor="start" fill="#000">Personized</text>
<line x1="268" y1="451.1" x2="279.8" y2="451.1" stroke="#9467bd" stroke-width="1.9"/>
<text x="282.9" y="453.1" font-family="Liberation Sans" font-size="5.86" text-anchor="start" fill="#000">SplitAVG</text>
<polyline points="487.3,393 506.88,393.2 526.46,393 546.04,393.3 565.62,393.1 585.2,393.1 604.78,393.1 624.36,393.1 643.94,393.1 663.52,393.6" fill="none" stroke="#ff7f0e" stroke-width="1.5" stroke-linejoin="round"/>
<polyline points="487.3,393.6 506.88,393.4 526.46,393.1 546.04,393.6 565.62,393.6 585.2,393.4 604.78,392.8 624.36,392.8 643.94,393.4 663.52,393.4" fill="none" stroke="#d9e01c" stroke-width="1.5" stroke-linejoin="round"/>
<polyline points="487.3,394.7 506.88,395 526.46,391.5 546.04,393.1 565.62,391.5 585.2,400.2 604.78,397.3 624.36,398.9 643.94,393.8 663.52,394.4" fill="none" stroke="#9467bd" stroke-width="1.5" stroke-linejoin="round"/>
<polyline points="487.3,391.8 506.88,392.5 526.46,391.5 546.04,397 565.62,384.5 585.2,382.8 604.78,387.7 624.36,384.5 643.94,390.2 663.52,397" fill="none" stroke="#d62728" stroke-width="1.5" stroke-linejoin="round"/>
<polyline points="487.3,379.3 506.88,382.2 526.46,380 546.04,379.6 565.62,380.6 585.2,379 604.78,380.9 624.36,380.6 643.94,381.2 663.52,386.4" fill="none" stroke="#1f77b4" stroke-width="1.5" stroke-linejoin="round"/>
<rect x="478.5" y="363" width="194.5" height="96" fill="none" stroke="#222" stroke-width="1.15"/>
<line x1="673" y1="363.7" x2="675" y2="363.7" stroke="#222" stroke-width="1"/>
<text x="677.2" y="366.1" font-family="Liberation Sans" font-size="5.8" text-anchor="start" fill="#222">1.0</text>
<line x1="673" y1="387.3" x2="675" y2="387.3" stroke="#222" stroke-width="1"/>
<text x="677.2" y="389.7" font-family="Liberation Sans" font-size="5.8" text-anchor="start" fill="#222">0.8</text>
<line x1="673" y1="411.2" x2="675" y2="411.2" stroke="#222" stroke-width="1"/>
<text x="677.2" y="413.6" font-family="Liberation Sans" font-size="5.8" text-anchor="start" fill="#222">0.6</text>
<line x1="673" y1="435.3" x2="675" y2="435.3" stroke="#222" stroke-width="1"/>
<text x="677.2" y="437.7" font-family="Liberation Sans" font-size="5.8" text-anchor="start" fill="#222">0.4</text>
<line x1="673" y1="459.6" x2="675" y2="459.6" stroke="#222" stroke-width="1"/>
<text x="677.2" y="462" font-family="Liberation Sans" font-size="5.8" text-anchor="start" fill="#222">0.0</text>
<line x1="487.3" y1="459" x2="487.3" y2="461.2" stroke="#000" stroke-width="0.8"/>
<text x="481.4" y="467.3" font-family="Liberation Serif" font-size="6.8" text-anchor="start" fill="#000" transform="rotate(45 481.4 467.3)">1:1</text>
<line x1="506.88" y1="459" x2="506.88" y2="461.2" stroke="#000" stroke-width="0.8"/>
<text x="500.98" y="467.3" font-family="Liberation Serif" font-size="6.8" text-anchor="start" fill="#000" transform="rotate(45 500.98 467.3)">2:1</text>
<line x1="526.46" y1="459" x2="526.46" y2="461.2" stroke="#000" stroke-width="0.8"/>
<text x="520.56" y="467.3" font-family="Liberation Serif" font-size="6.8" text-anchor="start" fill="#000" transform="rotate(45 520.56 467.3)">4:1</text>
<line x1="546.04" y1="459" x2="546.04" y2="461.2" stroke="#000" stroke-width="0.8"/>
<text x="540.14" y="467.3" font-family="Liberation Serif" font-size="6.8" text-anchor="start" fill="#000" transform="rotate(45 540.14 467.3)">6:1</text>
<line x1="565.62" y1="459" x2="565.62" y2="461.2" stroke="#000" stroke-width="0.8"/>
<text x="559.72" y="467.3" font-family="Liberation Serif" font-size="6.8" text-anchor="start" fill="#000" transform="rotate(45 559.72 467.3)">8:1</text>
<line x1="585.2" y1="459" x2="585.2" y2="461.2" stroke="#000" stroke-width="0.8"/>
<text x="579.3" y="467.3" font-family="Liberation Serif" font-size="6.8" text-anchor="start" fill="#000" transform="rotate(45 579.3 467.3)">10:1</text>
<line x1="604.78" y1="459" x2="604.78" y2="461.2" stroke="#000" stroke-width="0.8"/>
<text x="598.88" y="467.3" font-family="Liberation Serif" font-size="6.8" text-anchor="start" fill="#000" transform="rotate(45 598.88 467.3)">20:1</text>
<line x1="624.36" y1="459" x2="624.36" y2="461.2" stroke="#000" stroke-width="0.8"/>
<text x="618.46" y="467.3" font-family="Liberation Serif" font-size="6.8" text-anchor="start" fill="#000" transform="rotate(45 618.46 467.3)">40:1</text>
<line x1="643.94" y1="459" x2="643.94" y2="461.2" stroke="#000" stroke-width="0.8"/>
<text x="638.04" y="467.3" font-family="Liberation Serif" font-size="6.8" text-anchor="start" fill="#000" transform="rotate(45 638.04 467.3)">60:1</text>
<line x1="663.52" y1="459" x2="663.52" y2="461.2" stroke="#000" stroke-width="0.8"/>
<text x="657.62" y="467.3" font-family="Liberation Serif" font-size="6.8" text-anchor="start" fill="#000" transform="rotate(45 657.62 467.3)">80:1</text>
<text x="566.45" y="360.2" font-family="Liberation Sans" font-size="7" text-anchor="middle" fill="#000">Node 2</text>
<rect x="481" y="413.7" width="50.5" height="42.7" rx="1.2" fill="#fff" fill-opacity="0.8" stroke="#d6d6d6" stroke-width="0.7"/>
<line x1="482.8" y1="419.1" x2="494.6" y2="419.1" stroke="#1f77b4" stroke-width="1.9"/>
<text x="497.7" y="421.1" font-family="Liberation Sans" font-size="5.86" text-anchor="start" fill="#000">HSL</text>
<line x1="482.8" y1="427.1" x2="494.6" y2="427.1" stroke="#ff7f0e" stroke-width="1.9"/>
<text x="497.7" y="429.1" font-family="Liberation Sans" font-size="5.86" text-anchor="start" fill="#000">FedBN</text>
<line x1="482.8" y1="435.1" x2="494.6" y2="435.1" stroke="#d9e01c" stroke-width="1.9"/>
<text x="497.7" y="437.1" font-family="Liberation Sans" font-size="5.86" text-anchor="start" fill="#000">FedProx</text>
<line x1="482.8" y1="443.1" x2="494.6" y2="443.1" stroke="#d62728" stroke-width="1.9"/>
<text x="497.7" y="445.1" font-family="Liberation Sans" font-size="5.86" text-anchor="start" fill="#000">Personized</text>
<line x1="482.8" y1="451.1" x2="494.6" y2="451.1" stroke="#9467bd" stroke-width="1.9"/>
<text x="497.7" y="453.1" font-family="Liberation Sans" font-size="5.86" text-anchor="start" fill="#000">SplitAVG</text>
<text x="29.6" y="490.4" font-family="Liberation Serif" font-size="9.5" font-weight="bold" text-anchor="start" fill="#000">D1. Combined Skew: Data Distribution</text>
<line x1="36.9" y1="514.4" x2="258.8" y2="514.4" stroke="#d9d9d9" stroke-width="0.9"/>
<text x="25.4" y="516.1" font-family="Liberation Sans" font-size="6.2" text-anchor="middle" fill="#505050" stroke="#505050" stroke-width="0.12">14529</text>
<line x1="36.2" y1="535.1" x2="258.8" y2="535.1" stroke="#d9d9d9" stroke-width="0.9"/>
<text x="25.4" y="536.8" font-family="Liberation Sans" font-size="6.2" text-anchor="middle" fill="#505050" stroke="#505050" stroke-width="0.12">3500</text>
<line x1="36.2" y1="548.4" x2="258.8" y2="548.4" stroke="#d9d9d9" stroke-width="0.9"/>
<text x="25.4" y="550.1" font-family="Liberation Sans" font-size="6.2" text-anchor="middle" fill="#505050" stroke="#505050" stroke-width="0.12">3000</text>
<line x1="36.2" y1="561.6" x2="258.8" y2="561.6" stroke="#d9d9d9" stroke-width="0.9"/>
<text x="25.4" y="563.3" font-family="Liberation Sans" font-size="6.2" text-anchor="middle" fill="#505050" stroke="#505050" stroke-width="0.12">2500</text>
<line x1="36.2" y1="574.9" x2="258.8" y2="574.9" stroke="#d9d9d9" stroke-width="0.9"/>
<text x="25.4" y="576.6" font-family="Liberation Sans" font-size="6.2" text-anchor="middle" fill="#505050" stroke="#505050" stroke-width="0.12">2000</text>
<line x1="36.2" y1="588.1" x2="258.8" y2="588.1" stroke="#d9d9d9" stroke-width="0.9"/>
<text x="25.4" y="589.8" font-family="Liberation Sans" font-size="6.2" text-anchor="middle" fill="#505050" stroke="#505050" stroke-width="0.12">1500</text>
<line x1="36.2" y1="601.3" x2="258.8" y2="601.3" stroke="#d9d9d9" stroke-width="0.9"/>
<text x="25.4" y="603" font-family="Liberation Sans" font-size="6.2" text-anchor="middle" fill="#505050" stroke="#505050" stroke-width="0.12">1000</text>
<line x1="36.2" y1="614.4" x2="258.8" y2="614.4" stroke="#d9d9d9" stroke-width="0.9"/>
<text x="25.4" y="616.1" font-family="Liberation Sans" font-size="6.2" text-anchor="middle" fill="#505050" stroke="#505050" stroke-width="0.12">500</text>
<line x1="36.2" y1="627.7" x2="258.8" y2="627.7" stroke="#d9d9d9" stroke-width="0.9"/>
<text x="27.2" y="629.4" font-family="Liberation Sans" font-size="6.2" text-anchor="middle" fill="#505050" stroke="#505050" stroke-width="0.12">0</text>
<path d="M25.6,522 q1.3,1.5 0,3 q-1.3,1.5 0,3" fill="none" stroke="#6a6a6a" stroke-width="0.8"/>
<text x="7.9" y="578.3" font-family="Liberation Serif" font-size="8.1" text-anchor="middle" fill="#000" transform="rotate(-90 7.9 578.3)">Label and Quantity Skew</text>
<rect x="41.2" y="544.9" width="19.3" height="82.8" fill="#f3b822"/>
<rect x="41.2" y="626.9" width="19.3" height="0.8" fill="#536a31"/>
<rect x="72.9" y="569.2" width="18.4" height="1.2" fill="#f3b822"/>
<rect x="72.9" y="570.3" width="18.4" height="57.4" fill="#536a31"/>
<rect x="108" y="622.5" width="18.3" height="2.5" fill="#f3b822"/>
<rect x="108" y="625" width="18.3" height="2.7" fill="#536a31"/>
<rect x="142.9" y="622.5" width="18.4" height="2.5" fill="#f3b822"/>
<rect x="142.9" y="625" width="18.4" height="2.7" fill="#536a31"/>
<rect x="218.4" y="535.3" width="18.6" height="92.4" fill="#f3b822"/>
<rect x="217.9" y="514.4" width="18.4" height="3.5" fill="#f3b822"/>
<path d="M228.3,523.3 q-1.4,1.6 -0.2,3.2 q1.2,1.6 -0.3,3.2" fill="none" stroke="#6a6a6a" stroke-width="0.8"/>
<text x="54.16" y="646.34" font-family="Liberation Serif" font-size="7.5" text-anchor="middle" fill="#404040" transform="rotate(45 54.16 646.34)">Screening</text>
<text x="46.74" y="653.76" font-family="Liberation Serif" font-size="7.5" text-anchor="middle" fill="#404040" transform="rotate(45 46.74 653.76)">(100:1)</text>
<text x="85.26" y="648.04" font-family="Liberation Serif" font-size="7.5" text-anchor="middle" fill="#404040" transform="rotate(45 85.26 648.04)">Specialized</text>
<text x="77.84" y="655.46" font-family="Liberation Serif" font-size="7.5" text-anchor="middle" fill="#404040" transform="rotate(45 77.84 655.46)">(1:100)</text>
<text x="122.16" y="649.84" font-family="Liberation Serif" font-size="7.5" text-anchor="middle" fill="#404040" transform="rotate(45 122.16 649.84)">Small clinic 1</text>
<text x="114.74" y="657.26" font-family="Liberation Serif" font-size="7.5" text-anchor="middle" fill="#404040" transform="rotate(45 114.74 657.26)">(1:1)</text>
<text x="161.16" y="649.84" font-family="Liberation Serif" font-size="7.5" text-anchor="middle" fill="#404040" transform="rotate(45 161.16 649.84)">Small clinic 2</text>
<text x="153.74" y="657.26" font-family="Liberation Serif" font-size="7.5" text-anchor="middle" fill="#404040" transform="rotate(45 153.74 657.26)">(1:1)</text>
<text x="227.2" y="641.7" font-family="Liberation Serif" font-size="8.1" text-anchor="middle" fill="#404040">Rare Disease Region</text>
<text x="227" y="651.3" font-family="Liberation Serif" font-size="8.1" text-anchor="middle" fill="#404040">(2000:1)</text>
<rect x="78.7" y="678.8" width="5" height="5" fill="#f3b822"/>
<text x="90.4" y="684.4" font-family="Liberation Serif" font-size="8" text-anchor="start" fill="#e8b000">Normal</text>
<rect x="131.7" y="678.8" width="5" height="5" fill="#536a31"/>
<text x="144.2" y="684.4" font-family="Liberation Serif" font-size="8" text-anchor="start" fill="#536a31">Abnormal</text>
<text x="363.9" y="490.2" font-family="Liberation Serif" font-size="9.5" font-weight="bold" text-anchor="start" fill="#000">D2. Combined Skew: Performance Comparison</text>
<line x1="290.5" y1="513.6" x2="346.5" y2="513.6" stroke="#d4d4d4" stroke-width="0.7" stroke-dasharray="1.3 0.9"/>
<line x1="288.9" y1="513.6" x2="290.5" y2="513.6" stroke="#444" stroke-width="0.7"/>
<line x1="290.5" y1="542.3" x2="346.5" y2="542.3" stroke="#d4d4d4" stroke-width="0.7" stroke-dasharray="1.3 0.9"/>
<line x1="288.9" y1="542.3" x2="290.5" y2="542.3" stroke="#444" stroke-width="0.7"/>
<line x1="290.5" y1="571.9" x2="346.5" y2="571.9" stroke="#d4d4d4" stroke-width="0.7" stroke-dasharray="1.3 0.9"/>
<line x1="288.9" y1="571.9" x2="290.5" y2="571.9" stroke="#444" stroke-width="0.7"/>
<line x1="290.5" y1="601.3" x2="346.5" y2="601.3" stroke="#d4d4d4" stroke-width="0.7" stroke-dasharray="1.3 0.9"/>
<line x1="288.9" y1="601.3" x2="290.5" y2="601.3" stroke="#444" stroke-width="0.7"/>
<line x1="290.5" y1="630.4" x2="346.5" y2="630.4" stroke="#d4d4d4" stroke-width="0.7" stroke-dasharray="1.3 0.9"/>
<line x1="288.9" y1="630.4" x2="290.5" y2="630.4" stroke="#444" stroke-width="0.7"/>
<line x1="296.3" y1="506.5" x2="296.3" y2="659.5" stroke="#d6d6d6" stroke-width="0.7" stroke-dasharray="1.3 0.9"/>
<line x1="296.3" y1="659.5" x2="296.3" y2="660.9" stroke="#444" stroke-width="0.7"/>
<line x1="307.5" y1="506.5" x2="307.5" y2="659.5" stroke="#d6d6d6" stroke-width="0.7" stroke-dasharray="1.3 0.9"/>
<line x1="307.5" y1="659.5" x2="307.5" y2="660.9" stroke="#444" stroke-width="0.7"/>
<line x1="318.7" y1="506.5" x2="318.7" y2="659.5" stroke="#d6d6d6" stroke-width="0.7" stroke-dasharray="1.3 0.9"/>
<line x1="318.7" y1="659.5" x2="318.7" y2="660.9" stroke="#444" stroke-width="0.7"/>
<line x1="329.9" y1="506.5" x2="329.9" y2="659.5" stroke="#d6d6d6" stroke-width="0.7" stroke-dasharray="1.3 0.9"/>
<line x1="329.9" y1="659.5" x2="329.9" y2="660.9" stroke="#444" stroke-width="0.7"/>
<line x1="341.1" y1="506.5" x2="341.1" y2="659.5" stroke="#d6d6d6" stroke-width="0.7" stroke-dasharray="1.3 0.9"/>
<line x1="341.1" y1="659.5" x2="341.1" y2="660.9" stroke="#444" stroke-width="0.7"/>
<rect x="290.5" y="506.5" width="56" height="153" fill="none" stroke="#7c7c7c" stroke-width="1"/>
<text x="317" y="501.9" font-family="Liberation Serif" font-size="8.1" text-anchor="middle" fill="#000">Screening Center</text>
<rect x="293.6" y="540.6" width="5.4" height="1.8" fill="none" stroke="#e8434b" stroke-width="0.75"/>
<line x1="293.1" y1="541.6" x2="299.5" y2="541.6" stroke="#dde21c" stroke-width="1.8"/>
<circle cx="296.3" cy="533.2" r="1.25" fill="none" stroke="#e8434b" stroke-width="0.6"/>
<circle cx="296.3" cy="548.5" r="1.25" fill="none" stroke="#e8434b" stroke-width="0.6"/>
<line x1="304.3" y1="588.8" x2="310.7" y2="588.8" stroke="#dde21c" stroke-width="1.8"/>
<circle cx="307.5" cy="573.9" r="1.25" fill="none" stroke="#444" stroke-width="0.6"/>
<circle cx="307.5" cy="590.6" r="1.25" fill="none" stroke="#444" stroke-width="0.6"/>
<line x1="318.7" y1="579.2" x2="318.7" y2="581.8" stroke="#5a9ad4" stroke-width="0.85"/>
<line x1="317.35" y1="579.2" x2="320.05" y2="579.2" stroke="#444" stroke-width="0.8"/>
<rect x="316" y="581.8" width="5.4" height="8.3" fill="none" stroke="#5b9bd5" stroke-width="0.75"/>
<line x1="315.5" y1="589.3" x2="321.9" y2="589.3" stroke="#dde21c" stroke-width="1.8"/>
<line x1="329.9" y1="573.4" x2="329.9" y2="573.8" stroke="#5a9ad4" stroke-width="0.85"/>
<line x1="328.55" y1="573.4" x2="331.25" y2="573.4" stroke="#444" stroke-width="0.8"/>
<rect x="327.2" y="573.8" width="5.4" height="14.7" fill="none" stroke="#5b9bd5" stroke-width="0.75"/>
<line x1="326.7" y1="582.6" x2="333.1" y2="582.6" stroke="#dde21c" stroke-width="1.8"/>
<line x1="341.1" y1="542.4" x2="341.1" y2="548.5" stroke="#5a9ad4" stroke-width="0.85"/>
<line x1="339.75" y1="542.4" x2="342.45" y2="542.4" stroke="#444" stroke-width="0.8"/>
<line x1="341.1" y1="574.1" x2="341.1" y2="580.5" stroke="#5a9ad4" stroke-width="0.85"/>
<line x1="339.75" y1="580.5" x2="342.45" y2="580.5" stroke="#444" stroke-width="0.8"/>
<rect x="338.4" y="548.5" width="5.4" height="25.6" fill="none" stroke="#5b9bd5" stroke-width="0.75"/>
<line x1="337.9" y1="560.8" x2="344.3" y2="560.8" stroke="#dde21c" stroke-width="1.8"/>
<text x="290.8" y="666.6" font-family="Liberation Sans" font-size="6.8" font-weight="bold" text-anchor="start" fill="#d0202a" transform="rotate(45 290.8 666.6)" stroke="#d0202a" stroke-width="0.25">HSL</text>
<text x="303.1" y="666.3" font-family="Liberation Serif" font-size="6.8" text-anchor="start" fill="#222" transform="rotate(45 303.1 666.3)" stroke="#222" stroke-width="0.08">FedBN</text>
<text x="314.3" y="666.3" font-family="Liberation Serif" font-size="6.8" text-anchor="start" fill="#222" transform="rotate(45 314.3 666.3)" stroke="#222" stroke-width="0.08">FedProx</text>
<text x="325.5" y="666.3" font-family="Liberation Serif" font-size="6.8" text-anchor="start" fill="#222" transform="rotate(45 325.5 666.3)" stroke="#222" stroke-width="0.08">SplitAVG</text>
<text x="336.7" y="666.3" font-family="Liberation Serif" font-size="6.8" text-anchor="start" fill="#222" transform="rotate(45 336.7 666.3)" stroke="#222" stroke-width="0.08">Personized</text>
<line x1="372.5" y1="513.6" x2="428.5" y2="513.6" stroke="#d4d4d4" stroke-width="0.7" stroke-dasharray="1.3 0.9"/>
<line x1="372.5" y1="542.3" x2="428.5" y2="542.3" stroke="#d4d4d4" stroke-width="0.7" stroke-dasharray="1.3 0.9"/>
<line x1="372.5" y1="571.9" x2="428.5" y2="571.9" stroke="#d4d4d4" stroke-width="0.7" stroke-dasharray="1.3 0.9"/>
<line x1="372.5" y1="601.3" x2="428.5" y2="601.3" stroke="#d4d4d4" stroke-width="0.7" stroke-dasharray="1.3 0.9"/>
<line x1="372.5" y1="630.4" x2="428.5" y2="630.4" stroke="#d4d4d4" stroke-width="0.7" stroke-dasharray="1.3 0.9"/>
<line x1="378.3" y1="506.5" x2="378.3" y2="659.5" stroke="#d6d6d6" stroke-width="0.7" stroke-dasharray="1.3 0.9"/>
<line x1="378.3" y1="659.5" x2="378.3" y2="660.9" stroke="#444" stroke-width="0.7"/>
<line x1="389.5" y1="506.5" x2="389.5" y2="659.5" stroke="#d6d6d6" stroke-width="0.7" stroke-dasharray="1.3 0.9"/>
<line x1="389.5" y1="659.5" x2="389.5" y2="660.9" stroke="#444" stroke-width="0.7"/>
<line x1="400.7" y1="506.5" x2="400.7" y2="659.5" stroke="#d6d6d6" stroke-width="0.7" stroke-dasharray="1.3 0.9"/>
<line x1="400.7" y1="659.5" x2="400.7" y2="660.9" stroke="#444" stroke-width="0.7"/>
<line x1="411.9" y1="506.5" x2="411.9" y2="659.5" stroke="#d6d6d6" stroke-width="0.7" stroke-dasharray="1.3 0.9"/>
<line x1="411.9" y1="659.5" x2="411.9" y2="660.9" stroke="#444" stroke-width="0.7"/>
<line x1="423.1" y1="506.5" x2="423.1" y2="659.5" stroke="#d6d6d6" stroke-width="0.7" stroke-dasharray="1.3 0.9"/>
<line x1="423.1" y1="659.5" x2="423.1" y2="660.9" stroke="#444" stroke-width="0.7"/>
<rect x="372.5" y="506.5" width="56" height="153" fill="none" stroke="#7c7c7c" stroke-width="1"/>
<text x="400.9" y="501.9" font-family="Liberation Serif" font-size="8.1" text-anchor="middle" fill="#000">Specialized Hospital</text>
<rect x="375.6" y="541.2" width="5.4" height="3.3" fill="none" stroke="#e8434b" stroke-width="0.75"/>
<line x1="375.1" y1="542" x2="381.5" y2="542" stroke="#dde21c" stroke-width="1.8"/>
<circle cx="378.3" cy="534.8" r="1.25" fill="none" stroke="#e8434b" stroke-width="0.6"/>
<circle cx="378.3" cy="550.1" r="1.25" fill="none" stroke="#e8434b" stroke-width="0.6"/>
<line x1="389.5" y1="569.3" x2="389.5" y2="576.5" stroke="#5a9ad4" stroke-width="0.85"/>
<line x1="388.15" y1="569.3" x2="390.85" y2="569.3" stroke="#444" stroke-width="0.8"/>
<line x1="389.5" y1="583.7" x2="389.5" y2="584.5" stroke="#5a9ad4" stroke-width="0.85"/>
<line x1="388.15" y1="584.5" x2="390.85" y2="584.5" stroke="#444" stroke-width="0.8"/>
<rect x="386.8" y="576.5" width="5.4" height="7.2" fill="none" stroke="#5b9bd5" stroke-width="0.75"/>
<line x1="386.3" y1="582.1" x2="392.7" y2="582.1" stroke="#dde21c" stroke-width="1.8"/>
<line x1="400.7" y1="571.7" x2="400.7" y2="578.9" stroke="#5a9ad4" stroke-width="0.85"/>
<line x1="399.35" y1="571.7" x2="402.05" y2="571.7" stroke="#444" stroke-width="0.8"/>
<line x1="400.7" y1="595.2" x2="400.7" y2="602.5" stroke="#5a9ad4" stroke-width="0.85"/>
<line x1="399.35" y1="602.5" x2="402.05" y2="602.5" stroke="#444" stroke-width="0.8"/>
<rect x="398" y="578.9" width="5.4" height="16.3" fill="none" stroke="#5b9bd5" stroke-width="0.75"/>
<line x1="397.5" y1="578.9" x2="403.9" y2="578.9" stroke="#dde21c" stroke-width="1.8"/>
<line x1="411.9" y1="577.3" x2="411.9" y2="580.2" stroke="#5a9ad4" stroke-width="0.85"/>
<line x1="410.55" y1="580.2" x2="413.25" y2="580.2" stroke="#444" stroke-width="0.8"/>
<rect x="409.2" y="548.5" width="5.4" height="28.8" fill="none" stroke="#5b9bd5" stroke-width="0.75"/>
<line x1="408.7" y1="573.6" x2="415.1" y2="573.6" stroke="#dde21c" stroke-width="1.8"/>
<line x1="423.1" y1="556.1" x2="423.1" y2="558.5" stroke="#5a9ad4" stroke-width="0.85"/>
<line x1="421.75" y1="556.1" x2="424.45" y2="556.1" stroke="#444" stroke-width="0.8"/>
<line x1="423.1" y1="573" x2="423.1" y2="580.5" stroke="#5a9ad4" stroke-width="0.85"/>
<line x1="421.75" y1="580.5" x2="424.45" y2="580.5" stroke="#444" stroke-width="0.8"/>
<rect x="420.4" y="558.5" width="5.4" height="14.5" fill="none" stroke="#5b9bd5" stroke-width="0.75"/>
<line x1="419.9" y1="567.4" x2="426.3" y2="567.4" stroke="#dde21c" stroke-width="1.8"/>
<text x="372.8" y="666.6" font-family="Liberation Sans" font-size="6.8" font-weight="bold" text-anchor="start" fill="#d0202a" transform="rotate(45 372.8 666.6)" stroke="#d0202a" stroke-width="0.25">HSL</text>
<text x="385.1" y="666.3" font-family="Liberation Serif" font-size="6.8" text-anchor="start" fill="#222" transform="rotate(45 385.1 666.3)" stroke="#222" stroke-width="0.08">FedBN</text>
<text x="396.3" y="666.3" font-family="Liberation Serif" font-size="6.8" text-anchor="start" fill="#222" transform="rotate(45 396.3 666.3)" stroke="#222" stroke-width="0.08">FedProx</text>
<text x="407.5" y="666.3" font-family="Liberation Serif" font-size="6.8" text-anchor="start" fill="#222" transform="rotate(45 407.5 666.3)" stroke="#222" stroke-width="0.08">SplitAVG</text>
<text x="418.7" y="666.3" font-family="Liberation Serif" font-size="6.8" text-anchor="start" fill="#222" transform="rotate(45 418.7 666.3)" stroke="#222" stroke-width="0.08">Personized</text>
<line x1="454.5" y1="513.6" x2="510.5" y2="513.6" stroke="#d4d4d4" stroke-width="0.7" stroke-dasharray="1.3 0.9"/>
<line x1="454.5" y1="542.3" x2="510.5" y2="542.3" stroke="#d4d4d4" stroke-width="0.7" stroke-dasharray="1.3 0.9"/>
<line x1="454.5" y1="571.9" x2="510.5" y2="571.9" stroke="#d4d4d4" stroke-width="0.7" stroke-dasharray="1.3 0.9"/>
<line x1="454.5" y1="601.3" x2="510.5" y2="601.3" stroke="#d4d4d4" stroke-width="0.7" stroke-dasharray="1.3 0.9"/>
<line x1="454.5" y1="630.4" x2="510.5" y2="630.4" stroke="#d4d4d4" stroke-width="0.7" stroke-dasharray="1.3 0.9"/>
<line x1="460.3" y1="506.5" x2="460.3" y2="659.5" stroke="#d6d6d6" stroke-width="0.7" stroke-dasharray="1.3 0.9"/>
<line x1="460.3" y1="659.5" x2="460.3" y2="660.9" stroke="#444" stroke-width="0.7"/>
<line x1="471.5" y1="506.5" x2="471.5" y2="659.5" stroke="#d6d6d6" stroke-width="0.7" stroke-dasharray="1.3 0.9"/>
<line x1="471.5" y1="659.5" x2="471.5" y2="660.9" stroke="#444" stroke-width="0.7"/>
<line x1="482.7" y1="506.5" x2="482.7" y2="659.5" stroke="#d6d6d6" stroke-width="0.7" stroke-dasharray="1.3 0.9"/>
<line x1="482.7" y1="659.5" x2="482.7" y2="660.9" stroke="#444" stroke-width="0.7"/>
<line x1="493.9" y1="506.5" x2="493.9" y2="659.5" stroke="#d6d6d6" stroke-width="0.7" stroke-dasharray="1.3 0.9"/>
<line x1="493.9" y1="659.5" x2="493.9" y2="660.9" stroke="#444" stroke-width="0.7"/>
<line x1="505.1" y1="506.5" x2="505.1" y2="659.5" stroke="#d6d6d6" stroke-width="0.7" stroke-dasharray="1.3 0.9"/>
<line x1="505.1" y1="659.5" x2="505.1" y2="660.9" stroke="#444" stroke-width="0.7"/>
<rect x="454.5" y="506.5" width="56" height="153" fill="none" stroke="#7c7c7c" stroke-width="1"/>
<text x="483.5" y="501.9" font-family="Liberation Serif" font-size="8.1" text-anchor="middle" fill="#000">Small Clinic 1</text>
<line x1="460.3" y1="539.6" x2="460.3" y2="543.3" stroke="#e8434b" stroke-width="0.85"/>
<line x1="458.95" y1="539.6" x2="461.65" y2="539.6" stroke="#e8434b" stroke-width="0.8"/>
<rect x="457.6" y="543.3" width="5.4" height="5.2" fill="none" stroke="#e8434b" stroke-width="0.75"/>
<line x1="457.1" y1="546.9" x2="463.5" y2="546.9" stroke="#dde21c" stroke-width="1.8"/>
<line x1="471.5" y1="586.4" x2="471.5" y2="589.3" stroke="#5a9ad4" stroke-width="0.85"/>
<line x1="470.15" y1="589.3" x2="472.85" y2="589.3" stroke="#444" stroke-width="0.8"/>
<rect x="468.8" y="579.2" width="5.4" height="7.2" fill="none" stroke="#5b9bd5" stroke-width="0.75"/>
<line x1="468.3" y1="584" x2="474.7" y2="584" stroke="#dde21c" stroke-width="1.8"/>
<line x1="482.7" y1="586.6" x2="482.7" y2="591.2" stroke="#5a9ad4" stroke-width="0.85"/>
<line x1="481.35" y1="591.2" x2="484.05" y2="591.2" stroke="#444" stroke-width="0.8"/>
<rect x="480" y="579.2" width="5.4" height="7.4" fill="none" stroke="#5b9bd5" stroke-width="0.75"/>
<line x1="479.5" y1="584" x2="485.9" y2="584" stroke="#dde21c" stroke-width="1.8"/>
<circle cx="482.7" cy="567.4" r="1.25" fill="none" stroke="#444" stroke-width="0.6"/>
<line x1="493.9" y1="569.3" x2="493.9" y2="574.1" stroke="#5a9ad4" stroke-width="0.85"/>
<line x1="492.55" y1="569.3" x2="495.25" y2="569.3" stroke="#444" stroke-width="0.8"/>
<rect x="491.2" y="574.1" width="5.4" height="17.3" fill="none" stroke="#5b9bd5" stroke-width="0.75"/>
<line x1="490.7" y1="589" x2="497.1" y2="589" stroke="#dde21c" stroke-width="1.8"/>
<line x1="505.1" y1="549.6" x2="505.1" y2="552.1" stroke="#5a9ad4" stroke-width="0.85"/>
<line x1="503.75" y1="549.6" x2="506.45" y2="549.6" stroke="#444" stroke-width="0.8"/>
<line x1="505.1" y1="578.1" x2="505.1" y2="579.2" stroke="#5a9ad4" stroke-width="0.85"/>
<line x1="503.75" y1="579.2" x2="506.45" y2="579.2" stroke="#444" stroke-width="0.8"/>
<rect x="502.4" y="552.1" width="5.4" height="26" fill="none" stroke="#5b9bd5" stroke-width="0.75"/>
<line x1="501.9" y1="572.5" x2="508.3" y2="572.5" stroke="#dde21c" stroke-width="1.8"/>
<text x="454.8" y="666.6" font-family="Liberation Sans" font-size="6.8" font-weight="bold" text-anchor="start" fill="#d0202a" transform="rotate(45 454.8 666.6)" stroke="#d0202a" stroke-width="0.25">HSL</text>
<text x="467.1" y="666.3" font-family="Liberation Serif" font-size="6.8" text-anchor="start" fill="#222" transform="rotate(45 467.1 666.3)" stroke="#222" stroke-width="0.08">FedBN</text>
<text x="478.3" y="666.3" font-family="Liberation Serif" font-size="6.8" text-anchor="start" fill="#222" transform="rotate(45 478.3 666.3)" stroke="#222" stroke-width="0.08">FedProx</text>
<text x="489.5" y="666.3" font-family="Liberation Serif" font-size="6.8" text-anchor="start" fill="#222" transform="rotate(45 489.5 666.3)" stroke="#222" stroke-width="0.08">SplitAVG</text>
<text x="500.7" y="666.3" font-family="Liberation Serif" font-size="6.8" text-anchor="start" fill="#222" transform="rotate(45 500.7 666.3)" stroke="#222" stroke-width="0.08">Personized</text>
<line x1="534.5" y1="513.6" x2="590.5" y2="513.6" stroke="#d4d4d4" stroke-width="0.7" stroke-dasharray="1.3 0.9"/>
<line x1="534.5" y1="542.3" x2="590.5" y2="542.3" stroke="#d4d4d4" stroke-width="0.7" stroke-dasharray="1.3 0.9"/>
<line x1="534.5" y1="571.9" x2="590.5" y2="571.9" stroke="#d4d4d4" stroke-width="0.7" stroke-dasharray="1.3 0.9"/>
<line x1="534.5" y1="601.3" x2="590.5" y2="601.3" stroke="#d4d4d4" stroke-width="0.7" stroke-dasharray="1.3 0.9"/>
<line x1="534.5" y1="630.4" x2="590.5" y2="630.4" stroke="#d4d4d4" stroke-width="0.7" stroke-dasharray="1.3 0.9"/>
<line x1="540.3" y1="506.5" x2="540.3" y2="659.5" stroke="#d6d6d6" stroke-width="0.7" stroke-dasharray="1.3 0.9"/>
<line x1="540.3" y1="659.5" x2="540.3" y2="660.9" stroke="#444" stroke-width="0.7"/>
<line x1="551.5" y1="506.5" x2="551.5" y2="659.5" stroke="#d6d6d6" stroke-width="0.7" stroke-dasharray="1.3 0.9"/>
<line x1="551.5" y1="659.5" x2="551.5" y2="660.9" stroke="#444" stroke-width="0.7"/>
<line x1="562.7" y1="506.5" x2="562.7" y2="659.5" stroke="#d6d6d6" stroke-width="0.7" stroke-dasharray="1.3 0.9"/>
<line x1="562.7" y1="659.5" x2="562.7" y2="660.9" stroke="#444" stroke-width="0.7"/>
<line x1="573.9" y1="506.5" x2="573.9" y2="659.5" stroke="#d6d6d6" stroke-width="0.7" stroke-dasharray="1.3 0.9"/>
<line x1="573.9" y1="659.5" x2="573.9" y2="660.9" stroke="#444" stroke-width="0.7"/>
<line x1="585.1" y1="506.5" x2="585.1" y2="659.5" stroke="#d6d6d6" stroke-width="0.7" stroke-dasharray="1.3 0.9"/>
<line x1="585.1" y1="659.5" x2="585.1" y2="660.9" stroke="#444" stroke-width="0.7"/>
<rect x="534.5" y="506.5" width="57" height="153" fill="none" stroke="#7c7c7c" stroke-width="1"/>
<text x="560.1" y="501.9" font-family="Liberation Serif" font-size="8.1" text-anchor="middle" fill="#000">Small Clinic 2</text>
<line x1="540.3" y1="534.4" x2="540.3" y2="538" stroke="#e8434b" stroke-width="0.85"/>
<line x1="538.95" y1="534.4" x2="541.65" y2="534.4" stroke="#e8434b" stroke-width="0.8"/>
<rect x="537.6" y="538" width="5.4" height="3.2" fill="none" stroke="#e8434b" stroke-width="0.75"/>
<line x1="537.1" y1="539.6" x2="543.5" y2="539.6" stroke="#dde21c" stroke-width="1.8"/>
<line x1="551.5" y1="586.6" x2="551.5" y2="589.3" stroke="#5a9ad4" stroke-width="0.85"/>
<line x1="550.15" y1="589.3" x2="552.85" y2="589.3" stroke="#444" stroke-width="0.8"/>
<rect x="548.8" y="583.7" width="5.4" height="2.9" fill="none" stroke="#5b9bd5" stroke-width="0.75"/>
<line x1="548.3" y1="584.2" x2="554.7" y2="584.2" stroke="#dde21c" stroke-width="1.8"/>
<circle cx="551.5" cy="579.2" r="1.25" fill="none" stroke="#444" stroke-width="0.6"/>
<line x1="562.7" y1="579.2" x2="562.7" y2="581.8" stroke="#5a9ad4" stroke-width="0.85"/>
<line x1="561.35" y1="579.2" x2="564.05" y2="579.2" stroke="#444" stroke-width="0.8"/>
<rect x="560" y="581.8" width="5.4" height="2.7" fill="none" stroke="#5b9bd5" stroke-width="0.75"/>
<line x1="559.5" y1="583.9" x2="565.9" y2="583.9" stroke="#dde21c" stroke-width="1.8"/>
<circle cx="562.7" cy="589.3" r="1.25" fill="none" stroke="#444" stroke-width="0.6"/>
<rect x="571.2" y="579.2" width="5.4" height="12.2" fill="none" stroke="#5b9bd5" stroke-width="0.75"/>
<line x1="570.7" y1="586.6" x2="577.1" y2="586.6" stroke="#dde21c" stroke-width="1.8"/>
<circle cx="573.9" cy="550.4" r="1.25" fill="none" stroke="#444" stroke-width="0.6"/>
<line x1="585.1" y1="551.2" x2="585.1" y2="569" stroke="#5a9ad4" stroke-width="0.85"/>
<line x1="583.75" y1="551.2" x2="586.45" y2="551.2" stroke="#444" stroke-width="0.8"/>
<line x1="585.1" y1="584.5" x2="585.1" y2="597.6" stroke="#5a9ad4" stroke-width="0.85"/>
<line x1="583.75" y1="597.6" x2="586.45" y2="597.6" stroke="#444" stroke-width="0.8"/>
<rect x="582.4" y="569" width="5.4" height="15.5" fill="none" stroke="#5b9bd5" stroke-width="0.75"/>
<line x1="581.9" y1="576.5" x2="588.3" y2="576.5" stroke="#dde21c" stroke-width="1.8"/>
<text x="534.8" y="666.6" font-family="Liberation Sans" font-size="6.8" font-weight="bold" text-anchor="start" fill="#d0202a" transform="rotate(45 534.8 666.6)" stroke="#d0202a" stroke-width="0.25">HSL</text>
<text x="547.1" y="666.3" font-family="Liberation Serif" font-size="6.8" text-anchor="start" fill="#222" transform="rotate(45 547.1 666.3)" stroke="#222" stroke-width="0.08">FedBN</text>
<text x="558.3" y="666.3" font-family="Liberation Serif" font-size="6.8" text-anchor="start" fill="#222" transform="rotate(45 558.3 666.3)" stroke="#222" stroke-width="0.08">FedProx</text>
<text x="569.5" y="666.3" font-family="Liberation Serif" font-size="6.8" text-anchor="start" fill="#222" transform="rotate(45 569.5 666.3)" stroke="#222" stroke-width="0.08">SplitAVG</text>
<text x="580.7" y="666.3" font-family="Liberation Serif" font-size="6.8" text-anchor="start" fill="#222" transform="rotate(45 580.7 666.3)" stroke="#222" stroke-width="0.08">Personized</text>
<line x1="613.5" y1="513.6" x2="669.5" y2="513.6" stroke="#d4d4d4" stroke-width="0.7" stroke-dasharray="1.3 0.9"/>
<line x1="613.5" y1="542.3" x2="669.5" y2="542.3" stroke="#d4d4d4" stroke-width="0.7" stroke-dasharray="1.3 0.9"/>
<line x1="613.5" y1="571.9" x2="669.5" y2="571.9" stroke="#d4d4d4" stroke-width="0.7" stroke-dasharray="1.3 0.9"/>
<line x1="613.5" y1="601.3" x2="669.5" y2="601.3" stroke="#d4d4d4" stroke-width="0.7" stroke-dasharray="1.3 0.9"/>
<line x1="613.5" y1="630.4" x2="669.5" y2="630.4" stroke="#d4d4d4" stroke-width="0.7" stroke-dasharray="1.3 0.9"/>
<line x1="619.3" y1="506.5" x2="619.3" y2="659.5" stroke="#d6d6d6" stroke-width="0.7" stroke-dasharray="1.3 0.9"/>
<line x1="619.3" y1="659.5" x2="619.3" y2="660.9" stroke="#444" stroke-width="0.7"/>
<line x1="630.5" y1="506.5" x2="630.5" y2="659.5" stroke="#d6d6d6" stroke-width="0.7" stroke-dasharray="1.3 0.9"/>
<line x1="630.5" y1="659.5" x2="630.5" y2="660.9" stroke="#444" stroke-width="0.7"/>
<line x1="641.7" y1="506.5" x2="641.7" y2="659.5" stroke="#d6d6d6" stroke-width="0.7" stroke-dasharray="1.3 0.9"/>
<line x1="641.7" y1="659.5" x2="641.7" y2="660.9" stroke="#444" stroke-width="0.7"/>
<line x1="652.9" y1="506.5" x2="652.9" y2="659.5" stroke="#d6d6d6" stroke-width="0.7" stroke-dasharray="1.3 0.9"/>
<line x1="652.9" y1="659.5" x2="652.9" y2="660.9" stroke="#444" stroke-width="0.7"/>
<line x1="664.1" y1="506.5" x2="664.1" y2="659.5" stroke="#d6d6d6" stroke-width="0.7" stroke-dasharray="1.3 0.9"/>
<line x1="664.1" y1="659.5" x2="664.1" y2="660.9" stroke="#444" stroke-width="0.7"/>
<rect x="613.5" y="506.5" width="56" height="153" fill="none" stroke="#7c7c7c" stroke-width="1"/>
<text x="642.5" y="501.9" font-family="Liberation Serif" font-size="8.1" text-anchor="middle" fill="#000">Rare Disease Region</text>
<line x1="619.3" y1="524.1" x2="619.3" y2="542.9" stroke="#e8434b" stroke-width="0.85"/>
<line x1="617.95" y1="524.1" x2="620.65" y2="524.1" stroke="#e8434b" stroke-width="0.8"/>
<line x1="619.3" y1="557.3" x2="619.3" y2="558.5" stroke="#e8434b" stroke-width="0.85"/>
<line x1="617.95" y1="558.5" x2="620.65" y2="558.5" stroke="#e8434b" stroke-width="0.8"/>
<rect x="616.6" y="542.9" width="5.4" height="14.4" fill="none" stroke="#e8434b" stroke-width="0.75"/>
<line x1="616.1" y1="552.1" x2="622.5" y2="552.1" stroke="#dde21c" stroke-width="1.8"/>
<rect x="627.8" y="588.2" width="5.4" height="2.4" fill="none" stroke="#5b9bd5" stroke-width="0.75"/>
<line x1="627.3" y1="589.6" x2="633.7" y2="589.6" stroke="#dde21c" stroke-width="1.8"/>
<circle cx="630.5" cy="596" r="1.25" fill="none" stroke="#444" stroke-width="0.6"/>
<line x1="641.7" y1="591.4" x2="641.7" y2="592.8" stroke="#5a9ad4" stroke-width="0.85"/>
<line x1="640.35" y1="592.8" x2="643.05" y2="592.8" stroke="#444" stroke-width="0.8"/>
<rect x="639" y="589.8" width="5.4" height="1.6" fill="none" stroke="#5b9bd5" stroke-width="0.75"/>
<line x1="638.5" y1="590.6" x2="644.9" y2="590.6" stroke="#dde21c" stroke-width="1.8"/>
<line x1="649.7" y1="588.5" x2="656.1" y2="588.5" stroke="#dde21c" stroke-width="1.8"/>
<circle cx="652.9" cy="568" r="1.25" fill="none" stroke="#444" stroke-width="0.6"/>
<circle cx="652.9" cy="591.2" r="1.25" fill="none" stroke="#444" stroke-width="0.6"/>
<line x1="664.1" y1="531.6" x2="664.1" y2="539.3" stroke="#5a9ad4" stroke-width="0.85"/>
<line x1="662.75" y1="531.6" x2="665.45" y2="531.6" stroke="#444" stroke-width="0.8"/>
<line x1="664.1" y1="573" x2="664.1" y2="593.3" stroke="#5a9ad4" stroke-width="0.85"/>
<line x1="662.75" y1="593.3" x2="665.45" y2="593.3" stroke="#444" stroke-width="0.8"/>
<rect x="661.4" y="539.3" width="5.4" height="33.7" fill="none" stroke="#5b9bd5" stroke-width="0.75"/>
<line x1="660.9" y1="564.8" x2="667.3" y2="564.8" stroke="#dde21c" stroke-width="1.8"/>
<text x="613.8" y="666.6" font-family="Liberation Sans" font-size="6.8" font-weight="bold" text-anchor="start" fill="#d0202a" transform="rotate(45 613.8 666.6)" stroke="#d0202a" stroke-width="0.25">HSL</text>
<text x="626.1" y="666.3" font-family="Liberation Serif" font-size="6.8" text-anchor="start" fill="#222" transform="rotate(45 626.1 666.3)" stroke="#222" stroke-width="0.08">FedBN</text>
<text x="637.3" y="666.3" font-family="Liberation Serif" font-size="6.8" text-anchor="start" fill="#222" transform="rotate(45 637.3 666.3)" stroke="#222" stroke-width="0.08">FedProx</text>
<text x="648.5" y="666.3" font-family="Liberation Serif" font-size="6.8" text-anchor="start" fill="#222" transform="rotate(45 648.5 666.3)" stroke="#222" stroke-width="0.08">SplitAVG</text>
<text x="659.7" y="666.3" font-family="Liberation Serif" font-size="6.8" text-anchor="start" fill="#222" transform="rotate(45 659.7 666.3)" stroke="#222" stroke-width="0.08">Personized</text>
<text x="284.9" y="517.8" font-family="Liberation Serif" font-size="8.1" text-anchor="end" fill="#000">1.0</text>
<text x="284.9" y="546" font-family="Liberation Serif" font-size="8.1" text-anchor="end" fill="#000">0.8</text>
<text x="284.9" y="575.2" font-family="Liberation Serif" font-size="8.1" text-anchor="end" fill="#000">0.6</text>
<text x="284.9" y="603.7" font-family="Liberation Serif" font-size="8.1" text-anchor="end" fill="#000">0.4</text>
<text x="284.9" y="632.3" font-family="Liberation Serif" font-size="8.1" text-anchor="end" fill="#000">0.2</text>
<text x="284.9" y="660.2" font-family="Liberation Serif" font-size="8.1" text-anchor="end" fill="#000">0.0</text>
</svg>
</body></html>
